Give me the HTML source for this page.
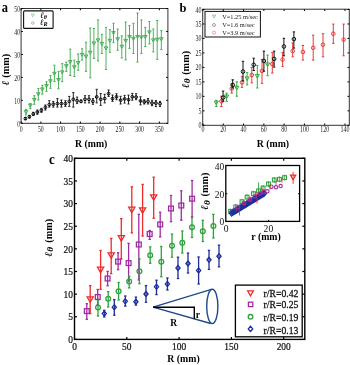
<!DOCTYPE html><html><head><meta charset="utf-8"><style>html,body{margin:0;padding:0;background:#fff;overflow:hidden}svg{display:block;filter:blur(0.3px)}text{font-family:"Liberation Serif",serif}</style></head><body>
<svg width="350" height="365" viewBox="0 0 350 365">
<rect width="350" height="365" fill="#fff"/>
<rect x="21.1" y="8.5" width="146.80" height="114.80" fill="none" stroke="#333" stroke-width="1"/>
<line x1="21.10" y1="123.30" x2="21.10" y2="121.50" stroke="#000" stroke-width="1"/>
<line x1="21.10" y1="8.50" x2="21.10" y2="10.30" stroke="#000" stroke-width="1"/>
<text transform="translate(21.10,131.50) scale(1,1.25)" x="0" y="0" font-size="5.8" text-anchor="middle" font-weight="normal" font-style="normal" fill="#222" >0</text>
<line x1="40.85" y1="123.30" x2="40.85" y2="121.50" stroke="#000" stroke-width="1"/>
<line x1="40.85" y1="8.50" x2="40.85" y2="10.30" stroke="#000" stroke-width="1"/>
<text transform="translate(40.85,131.50) scale(1,1.25)" x="0" y="0" font-size="5.8" text-anchor="middle" font-weight="normal" font-style="normal" fill="#222" >50</text>
<line x1="60.60" y1="123.30" x2="60.60" y2="121.50" stroke="#000" stroke-width="1"/>
<line x1="60.60" y1="8.50" x2="60.60" y2="10.30" stroke="#000" stroke-width="1"/>
<text transform="translate(60.60,131.50) scale(1,1.25)" x="0" y="0" font-size="5.8" text-anchor="middle" font-weight="normal" font-style="normal" fill="#222" >100</text>
<line x1="80.35" y1="123.30" x2="80.35" y2="121.50" stroke="#000" stroke-width="1"/>
<line x1="80.35" y1="8.50" x2="80.35" y2="10.30" stroke="#000" stroke-width="1"/>
<text transform="translate(80.35,131.50) scale(1,1.25)" x="0" y="0" font-size="5.8" text-anchor="middle" font-weight="normal" font-style="normal" fill="#222" >150</text>
<line x1="100.10" y1="123.30" x2="100.10" y2="121.50" stroke="#000" stroke-width="1"/>
<line x1="100.10" y1="8.50" x2="100.10" y2="10.30" stroke="#000" stroke-width="1"/>
<text transform="translate(100.10,131.50) scale(1,1.25)" x="0" y="0" font-size="5.8" text-anchor="middle" font-weight="normal" font-style="normal" fill="#222" >200</text>
<line x1="119.85" y1="123.30" x2="119.85" y2="121.50" stroke="#000" stroke-width="1"/>
<line x1="119.85" y1="8.50" x2="119.85" y2="10.30" stroke="#000" stroke-width="1"/>
<text transform="translate(119.85,131.50) scale(1,1.25)" x="0" y="0" font-size="5.8" text-anchor="middle" font-weight="normal" font-style="normal" fill="#222" >250</text>
<line x1="139.60" y1="123.30" x2="139.60" y2="121.50" stroke="#000" stroke-width="1"/>
<line x1="139.60" y1="8.50" x2="139.60" y2="10.30" stroke="#000" stroke-width="1"/>
<text transform="translate(139.60,131.50) scale(1,1.25)" x="0" y="0" font-size="5.8" text-anchor="middle" font-weight="normal" font-style="normal" fill="#222" >300</text>
<line x1="159.35" y1="123.30" x2="159.35" y2="121.50" stroke="#000" stroke-width="1"/>
<line x1="159.35" y1="8.50" x2="159.35" y2="10.30" stroke="#000" stroke-width="1"/>
<text transform="translate(159.35,131.50) scale(1,1.25)" x="0" y="0" font-size="5.8" text-anchor="middle" font-weight="normal" font-style="normal" fill="#222" >350</text>
<line x1="21.10" y1="123.30" x2="22.90" y2="123.30" stroke="#000" stroke-width="1"/>
<line x1="167.90" y1="123.30" x2="166.10" y2="123.30" stroke="#000" stroke-width="1"/>
<text transform="translate(20.10,126.50) scale(1,1.25)" x="0" y="0" font-size="5.8" text-anchor="end" font-weight="normal" font-style="normal" fill="#222" >0</text>
<line x1="21.10" y1="100.34" x2="22.90" y2="100.34" stroke="#000" stroke-width="1"/>
<line x1="167.90" y1="100.34" x2="166.10" y2="100.34" stroke="#000" stroke-width="1"/>
<text transform="translate(20.10,103.54) scale(1,1.25)" x="0" y="0" font-size="5.8" text-anchor="end" font-weight="normal" font-style="normal" fill="#222" >10</text>
<line x1="21.10" y1="77.38" x2="22.90" y2="77.38" stroke="#000" stroke-width="1"/>
<line x1="167.90" y1="77.38" x2="166.10" y2="77.38" stroke="#000" stroke-width="1"/>
<text transform="translate(20.10,80.58) scale(1,1.25)" x="0" y="0" font-size="5.8" text-anchor="end" font-weight="normal" font-style="normal" fill="#222" >20</text>
<line x1="21.10" y1="54.42" x2="22.90" y2="54.42" stroke="#000" stroke-width="1"/>
<line x1="167.90" y1="54.42" x2="166.10" y2="54.42" stroke="#000" stroke-width="1"/>
<text transform="translate(20.10,57.62) scale(1,1.25)" x="0" y="0" font-size="5.8" text-anchor="end" font-weight="normal" font-style="normal" fill="#222" >30</text>
<line x1="21.10" y1="31.46" x2="22.90" y2="31.46" stroke="#000" stroke-width="1"/>
<line x1="167.90" y1="31.46" x2="166.10" y2="31.46" stroke="#000" stroke-width="1"/>
<text transform="translate(20.10,34.66) scale(1,1.25)" x="0" y="0" font-size="5.8" text-anchor="end" font-weight="normal" font-style="normal" fill="#222" >40</text>
<line x1="21.10" y1="8.50" x2="22.90" y2="8.50" stroke="#000" stroke-width="1"/>
<line x1="167.90" y1="8.50" x2="166.10" y2="8.50" stroke="#000" stroke-width="1"/>
<text transform="translate(20.10,11.70) scale(1,1.25)" x="0" y="0" font-size="5.8" text-anchor="end" font-weight="normal" font-style="normal" fill="#222" >50</text>
<text transform="translate(91.20,146.50) scale(1,1.12)" x="0" y="0" font-size="9.8" text-anchor="middle" font-weight="bold" font-style="normal" fill="#000" >R (mm)</text>
<g transform="translate(8.5,69.7) rotate(-90) scale(1.1,1)"><text x="0" y="0" font-size="9.3" text-anchor="middle" font-weight="bold"><tspan font-style="italic" font-size="10.5">&#8467;</tspan><tspan dx="0.2"> (mm)</tspan></text></g>
<text transform="translate(1.70,11.50) scale(1,1.18)" x="0" y="0" font-size="12.5" text-anchor="start" font-weight="bold" font-style="normal" fill="#000" >a</text>
<line x1="26.00" y1="109.30" x2="26.00" y2="115.00" stroke="#3aa84a" stroke-width="0.9"/>
<line x1="24.90" y1="109.30" x2="27.10" y2="109.30" stroke="#3aa84a" stroke-width="0.9"/>
<line x1="24.90" y1="115.00" x2="27.10" y2="115.00" stroke="#3aa84a" stroke-width="0.9"/>
<path d="M24.20,110.53 L27.80,110.53 L26.00,113.67 Z" fill="none" stroke="#3aa84a" stroke-width="0.9" stroke-linejoin="miter"/>
<line x1="30.30" y1="103.60" x2="30.30" y2="108.60" stroke="#3aa84a" stroke-width="0.9"/>
<line x1="29.20" y1="103.60" x2="31.40" y2="103.60" stroke="#3aa84a" stroke-width="0.9"/>
<line x1="29.20" y1="108.60" x2="31.40" y2="108.60" stroke="#3aa84a" stroke-width="0.9"/>
<path d="M28.50,104.13 L32.10,104.13 L30.30,107.27 Z" fill="none" stroke="#3aa84a" stroke-width="0.9" stroke-linejoin="miter"/>
<line x1="34.30" y1="95.70" x2="34.30" y2="104.30" stroke="#3aa84a" stroke-width="0.9"/>
<line x1="33.20" y1="95.70" x2="35.40" y2="95.70" stroke="#3aa84a" stroke-width="0.9"/>
<line x1="33.20" y1="104.30" x2="35.40" y2="104.30" stroke="#3aa84a" stroke-width="0.9"/>
<path d="M32.50,98.43 L36.10,98.43 L34.30,101.57 Z" fill="none" stroke="#3aa84a" stroke-width="0.9" stroke-linejoin="miter"/>
<line x1="38.30" y1="88.60" x2="38.30" y2="100.00" stroke="#3aa84a" stroke-width="0.9"/>
<line x1="37.20" y1="88.60" x2="39.40" y2="88.60" stroke="#3aa84a" stroke-width="0.9"/>
<line x1="37.20" y1="100.00" x2="39.40" y2="100.00" stroke="#3aa84a" stroke-width="0.9"/>
<path d="M36.50,92.73 L40.10,92.73 L38.30,95.87 Z" fill="none" stroke="#3aa84a" stroke-width="0.9" stroke-linejoin="miter"/>
<line x1="42.30" y1="85.30" x2="42.30" y2="94.20" stroke="#3aa84a" stroke-width="0.9"/>
<line x1="41.20" y1="85.30" x2="43.40" y2="85.30" stroke="#3aa84a" stroke-width="0.9"/>
<line x1="41.20" y1="94.20" x2="43.40" y2="94.20" stroke="#3aa84a" stroke-width="0.9"/>
<path d="M40.50,87.93 L44.10,87.93 L42.30,91.07 Z" fill="none" stroke="#3aa84a" stroke-width="0.9" stroke-linejoin="miter"/>
<line x1="46.50" y1="81.80" x2="46.50" y2="91.40" stroke="#3aa84a" stroke-width="0.9"/>
<line x1="45.40" y1="81.80" x2="47.60" y2="81.80" stroke="#3aa84a" stroke-width="0.9"/>
<line x1="45.40" y1="91.40" x2="47.60" y2="91.40" stroke="#3aa84a" stroke-width="0.9"/>
<path d="M44.70,84.43 L48.30,84.43 L46.50,87.57 Z" fill="none" stroke="#3aa84a" stroke-width="0.9" stroke-linejoin="miter"/>
<line x1="50.40" y1="75.60" x2="50.40" y2="88.30" stroke="#3aa84a" stroke-width="0.9"/>
<line x1="49.30" y1="75.60" x2="51.50" y2="75.60" stroke="#3aa84a" stroke-width="0.9"/>
<line x1="49.30" y1="88.30" x2="51.50" y2="88.30" stroke="#3aa84a" stroke-width="0.9"/>
<path d="M48.60,79.73 L52.20,79.73 L50.40,82.87 Z" fill="none" stroke="#3aa84a" stroke-width="0.9" stroke-linejoin="miter"/>
<line x1="54.40" y1="65.20" x2="54.40" y2="81.60" stroke="#3aa84a" stroke-width="0.9"/>
<line x1="53.30" y1="65.20" x2="55.50" y2="65.20" stroke="#3aa84a" stroke-width="0.9"/>
<line x1="53.30" y1="81.60" x2="55.50" y2="81.60" stroke="#3aa84a" stroke-width="0.9"/>
<path d="M52.60,72.23 L56.20,72.23 L54.40,75.37 Z" fill="none" stroke="#3aa84a" stroke-width="0.9" stroke-linejoin="miter"/>
<line x1="58.50" y1="71.40" x2="58.50" y2="88.80" stroke="#3aa84a" stroke-width="0.9"/>
<line x1="57.40" y1="71.40" x2="59.60" y2="71.40" stroke="#3aa84a" stroke-width="0.9"/>
<line x1="57.40" y1="88.80" x2="59.60" y2="88.80" stroke="#3aa84a" stroke-width="0.9"/>
<path d="M56.70,78.43 L60.30,78.43 L58.50,81.57 Z" fill="none" stroke="#3aa84a" stroke-width="0.9" stroke-linejoin="miter"/>
<line x1="62.20" y1="63.60" x2="62.20" y2="81.60" stroke="#3aa84a" stroke-width="0.9"/>
<line x1="61.10" y1="63.60" x2="63.30" y2="63.60" stroke="#3aa84a" stroke-width="0.9"/>
<line x1="61.10" y1="81.60" x2="63.30" y2="81.60" stroke="#3aa84a" stroke-width="0.9"/>
<path d="M60.40,70.83 L64.00,70.83 L62.20,73.97 Z" fill="none" stroke="#3aa84a" stroke-width="0.9" stroke-linejoin="miter"/>
<line x1="66.30" y1="62.10" x2="66.30" y2="71.40" stroke="#3aa84a" stroke-width="0.9"/>
<line x1="65.20" y1="62.10" x2="67.40" y2="62.10" stroke="#3aa84a" stroke-width="0.9"/>
<line x1="65.20" y1="71.40" x2="67.40" y2="71.40" stroke="#3aa84a" stroke-width="0.9"/>
<path d="M64.50,64.63 L68.10,64.63 L66.30,67.77 Z" fill="none" stroke="#3aa84a" stroke-width="0.9" stroke-linejoin="miter"/>
<line x1="70.20" y1="49.20" x2="70.20" y2="75.50" stroke="#3aa84a" stroke-width="0.9"/>
<line x1="69.10" y1="49.20" x2="71.30" y2="49.20" stroke="#3aa84a" stroke-width="0.9"/>
<line x1="69.10" y1="75.50" x2="71.30" y2="75.50" stroke="#3aa84a" stroke-width="0.9"/>
<path d="M68.40,60.53 L72.00,60.53 L70.20,63.67 Z" fill="none" stroke="#3aa84a" stroke-width="0.9" stroke-linejoin="miter"/>
<line x1="74.30" y1="60.10" x2="74.30" y2="76.50" stroke="#3aa84a" stroke-width="0.9"/>
<line x1="73.20" y1="60.10" x2="75.40" y2="60.10" stroke="#3aa84a" stroke-width="0.9"/>
<line x1="73.20" y1="76.50" x2="75.40" y2="76.50" stroke="#3aa84a" stroke-width="0.9"/>
<path d="M72.50,65.73 L76.10,65.73 L74.30,68.87 Z" fill="none" stroke="#3aa84a" stroke-width="0.9" stroke-linejoin="miter"/>
<line x1="78.20" y1="53.90" x2="78.20" y2="70.30" stroke="#3aa84a" stroke-width="0.9"/>
<line x1="77.10" y1="53.90" x2="79.30" y2="53.90" stroke="#3aa84a" stroke-width="0.9"/>
<line x1="77.10" y1="70.30" x2="79.30" y2="70.30" stroke="#3aa84a" stroke-width="0.9"/>
<path d="M76.40,61.53 L80.00,61.53 L78.20,64.67 Z" fill="none" stroke="#3aa84a" stroke-width="0.9" stroke-linejoin="miter"/>
<line x1="82.10" y1="48.80" x2="82.10" y2="60.10" stroke="#3aa84a" stroke-width="0.9"/>
<line x1="81.00" y1="48.80" x2="83.20" y2="48.80" stroke="#3aa84a" stroke-width="0.9"/>
<line x1="81.00" y1="60.10" x2="83.20" y2="60.10" stroke="#3aa84a" stroke-width="0.9"/>
<path d="M80.30,53.33 L83.90,53.33 L82.10,56.47 Z" fill="none" stroke="#3aa84a" stroke-width="0.9" stroke-linejoin="miter"/>
<line x1="86.00" y1="42.20" x2="86.00" y2="71.40" stroke="#3aa84a" stroke-width="0.9"/>
<line x1="84.90" y1="42.20" x2="87.10" y2="42.20" stroke="#3aa84a" stroke-width="0.9"/>
<line x1="84.90" y1="71.40" x2="87.10" y2="71.40" stroke="#3aa84a" stroke-width="0.9"/>
<path d="M84.20,55.03 L87.80,55.03 L86.00,58.17 Z" fill="none" stroke="#3aa84a" stroke-width="0.9" stroke-linejoin="miter"/>
<line x1="90.20" y1="28.00" x2="90.20" y2="77.80" stroke="#3aa84a" stroke-width="0.9"/>
<line x1="89.10" y1="28.00" x2="91.30" y2="28.00" stroke="#3aa84a" stroke-width="0.9"/>
<line x1="89.10" y1="77.80" x2="91.30" y2="77.80" stroke="#3aa84a" stroke-width="0.9"/>
<path d="M88.40,51.13 L92.00,51.13 L90.20,54.27 Z" fill="none" stroke="#3aa84a" stroke-width="0.9" stroke-linejoin="miter"/>
<line x1="93.90" y1="28.50" x2="93.90" y2="58.40" stroke="#3aa84a" stroke-width="0.9"/>
<line x1="92.80" y1="28.50" x2="95.00" y2="28.50" stroke="#3aa84a" stroke-width="0.9"/>
<line x1="92.80" y1="58.40" x2="95.00" y2="58.40" stroke="#3aa84a" stroke-width="0.9"/>
<path d="M92.10,41.93 L95.70,41.93 L93.90,45.07 Z" fill="none" stroke="#3aa84a" stroke-width="0.9" stroke-linejoin="miter"/>
<line x1="98.00" y1="19.90" x2="98.00" y2="61.00" stroke="#3aa84a" stroke-width="0.9"/>
<line x1="96.90" y1="19.90" x2="99.10" y2="19.90" stroke="#3aa84a" stroke-width="0.9"/>
<line x1="96.90" y1="61.00" x2="99.10" y2="61.00" stroke="#3aa84a" stroke-width="0.9"/>
<path d="M96.20,38.83 L99.80,38.83 L98.00,41.97 Z" fill="none" stroke="#3aa84a" stroke-width="0.9" stroke-linejoin="miter"/>
<line x1="101.90" y1="34.30" x2="101.90" y2="53.50" stroke="#3aa84a" stroke-width="0.9"/>
<line x1="100.80" y1="34.30" x2="103.00" y2="34.30" stroke="#3aa84a" stroke-width="0.9"/>
<line x1="100.80" y1="53.50" x2="103.00" y2="53.50" stroke="#3aa84a" stroke-width="0.9"/>
<path d="M100.10,42.33 L103.70,42.33 L101.90,45.47 Z" fill="none" stroke="#3aa84a" stroke-width="0.9" stroke-linejoin="miter"/>
<line x1="106.00" y1="27.40" x2="106.00" y2="69.50" stroke="#3aa84a" stroke-width="0.9"/>
<line x1="104.90" y1="27.40" x2="107.10" y2="27.40" stroke="#3aa84a" stroke-width="0.9"/>
<line x1="104.90" y1="69.50" x2="107.10" y2="69.50" stroke="#3aa84a" stroke-width="0.9"/>
<path d="M104.20,46.83 L107.80,46.83 L106.00,49.97 Z" fill="none" stroke="#3aa84a" stroke-width="0.9" stroke-linejoin="miter"/>
<line x1="109.90" y1="29.70" x2="109.90" y2="52.30" stroke="#3aa84a" stroke-width="0.9"/>
<line x1="108.80" y1="29.70" x2="111.00" y2="29.70" stroke="#3aa84a" stroke-width="0.9"/>
<line x1="108.80" y1="52.30" x2="111.00" y2="52.30" stroke="#3aa84a" stroke-width="0.9"/>
<path d="M108.10,39.33 L111.70,39.33 L109.90,42.47 Z" fill="none" stroke="#3aa84a" stroke-width="0.9" stroke-linejoin="miter"/>
<line x1="113.50" y1="23.30" x2="113.50" y2="42.70" stroke="#3aa84a" stroke-width="0.9"/>
<line x1="112.40" y1="23.30" x2="114.60" y2="23.30" stroke="#3aa84a" stroke-width="0.9"/>
<line x1="112.40" y1="42.70" x2="114.60" y2="42.70" stroke="#3aa84a" stroke-width="0.9"/>
<path d="M111.70,31.53 L115.30,31.53 L113.50,34.67 Z" fill="none" stroke="#3aa84a" stroke-width="0.9" stroke-linejoin="miter"/>
<line x1="117.70" y1="29.00" x2="117.70" y2="50.30" stroke="#3aa84a" stroke-width="0.9"/>
<line x1="116.60" y1="29.00" x2="118.80" y2="29.00" stroke="#3aa84a" stroke-width="0.9"/>
<line x1="116.60" y1="50.30" x2="118.80" y2="50.30" stroke="#3aa84a" stroke-width="0.9"/>
<path d="M115.90,37.73 L119.50,37.73 L117.70,40.87 Z" fill="none" stroke="#3aa84a" stroke-width="0.9" stroke-linejoin="miter"/>
<line x1="121.80" y1="35.90" x2="121.80" y2="58.00" stroke="#3aa84a" stroke-width="0.9"/>
<line x1="120.70" y1="35.90" x2="122.90" y2="35.90" stroke="#3aa84a" stroke-width="0.9"/>
<line x1="120.70" y1="58.00" x2="122.90" y2="58.00" stroke="#3aa84a" stroke-width="0.9"/>
<path d="M120.00,45.23 L123.60,45.23 L121.80,48.37 Z" fill="none" stroke="#3aa84a" stroke-width="0.9" stroke-linejoin="miter"/>
<line x1="125.70" y1="22.10" x2="125.70" y2="59.90" stroke="#3aa84a" stroke-width="0.9"/>
<line x1="124.60" y1="22.10" x2="126.80" y2="22.10" stroke="#3aa84a" stroke-width="0.9"/>
<line x1="124.60" y1="59.90" x2="126.80" y2="59.90" stroke="#3aa84a" stroke-width="0.9"/>
<path d="M123.90,39.33 L127.50,39.33 L125.70,42.47 Z" fill="none" stroke="#3aa84a" stroke-width="0.9" stroke-linejoin="miter"/>
<line x1="129.50" y1="25.60" x2="129.50" y2="48.40" stroke="#3aa84a" stroke-width="0.9"/>
<line x1="128.40" y1="25.60" x2="130.60" y2="25.60" stroke="#3aa84a" stroke-width="0.9"/>
<line x1="128.40" y1="48.40" x2="130.60" y2="48.40" stroke="#3aa84a" stroke-width="0.9"/>
<path d="M127.70,35.43 L131.30,35.43 L129.50,38.57 Z" fill="none" stroke="#3aa84a" stroke-width="0.9" stroke-linejoin="miter"/>
<line x1="133.40" y1="23.30" x2="133.40" y2="53.50" stroke="#3aa84a" stroke-width="0.9"/>
<line x1="132.30" y1="23.30" x2="134.50" y2="23.30" stroke="#3aa84a" stroke-width="0.9"/>
<line x1="132.30" y1="53.50" x2="134.50" y2="53.50" stroke="#3aa84a" stroke-width="0.9"/>
<path d="M131.60,37.23 L135.20,37.23 L133.40,40.37 Z" fill="none" stroke="#3aa84a" stroke-width="0.9" stroke-linejoin="miter"/>
<line x1="137.50" y1="13.00" x2="137.50" y2="62.10" stroke="#3aa84a" stroke-width="0.9"/>
<line x1="136.40" y1="13.00" x2="138.60" y2="13.00" stroke="#3aa84a" stroke-width="0.9"/>
<line x1="136.40" y1="62.10" x2="138.60" y2="62.10" stroke="#3aa84a" stroke-width="0.9"/>
<path d="M135.70,35.43 L139.30,35.43 L137.50,38.57 Z" fill="none" stroke="#3aa84a" stroke-width="0.9" stroke-linejoin="miter"/>
<line x1="141.40" y1="19.90" x2="141.40" y2="53.50" stroke="#3aa84a" stroke-width="0.9"/>
<line x1="140.30" y1="19.90" x2="142.50" y2="19.90" stroke="#3aa84a" stroke-width="0.9"/>
<line x1="140.30" y1="53.50" x2="142.50" y2="53.50" stroke="#3aa84a" stroke-width="0.9"/>
<path d="M139.60,35.93 L143.20,35.93 L141.40,39.07 Z" fill="none" stroke="#3aa84a" stroke-width="0.9" stroke-linejoin="miter"/>
<line x1="145.30" y1="27.40" x2="145.30" y2="46.60" stroke="#3aa84a" stroke-width="0.9"/>
<line x1="144.20" y1="27.40" x2="146.40" y2="27.40" stroke="#3aa84a" stroke-width="0.9"/>
<line x1="144.20" y1="46.60" x2="146.40" y2="46.60" stroke="#3aa84a" stroke-width="0.9"/>
<path d="M143.50,35.43 L147.10,35.43 L145.30,38.57 Z" fill="none" stroke="#3aa84a" stroke-width="0.9" stroke-linejoin="miter"/>
<line x1="149.40" y1="21.50" x2="149.40" y2="43.90" stroke="#3aa84a" stroke-width="0.9"/>
<line x1="148.30" y1="21.50" x2="150.50" y2="21.50" stroke="#3aa84a" stroke-width="0.9"/>
<line x1="148.30" y1="43.90" x2="150.50" y2="43.90" stroke="#3aa84a" stroke-width="0.9"/>
<path d="M147.60,30.83 L151.20,30.83 L149.40,33.97 Z" fill="none" stroke="#3aa84a" stroke-width="0.9" stroke-linejoin="miter"/>
<line x1="153.30" y1="29.00" x2="153.30" y2="51.90" stroke="#3aa84a" stroke-width="0.9"/>
<line x1="152.20" y1="29.00" x2="154.40" y2="29.00" stroke="#3aa84a" stroke-width="0.9"/>
<line x1="152.20" y1="51.90" x2="154.40" y2="51.90" stroke="#3aa84a" stroke-width="0.9"/>
<path d="M151.50,38.83 L155.10,38.83 L153.30,41.97 Z" fill="none" stroke="#3aa84a" stroke-width="0.9" stroke-linejoin="miter"/>
<line x1="157.20" y1="20.50" x2="157.20" y2="59.40" stroke="#3aa84a" stroke-width="0.9"/>
<line x1="156.10" y1="20.50" x2="158.30" y2="20.50" stroke="#3aa84a" stroke-width="0.9"/>
<line x1="156.10" y1="59.40" x2="158.30" y2="59.40" stroke="#3aa84a" stroke-width="0.9"/>
<path d="M155.40,38.13 L159.00,38.13 L157.20,41.27 Z" fill="none" stroke="#3aa84a" stroke-width="0.9" stroke-linejoin="miter"/>
<line x1="161.30" y1="30.60" x2="161.30" y2="49.60" stroke="#3aa84a" stroke-width="0.9"/>
<line x1="160.20" y1="30.60" x2="162.40" y2="30.60" stroke="#3aa84a" stroke-width="0.9"/>
<line x1="160.20" y1="49.60" x2="162.40" y2="49.60" stroke="#3aa84a" stroke-width="0.9"/>
<path d="M159.50,37.73 L163.10,37.73 L161.30,40.87 Z" fill="none" stroke="#3aa84a" stroke-width="0.9" stroke-linejoin="miter"/>
<line x1="25.40" y1="117.50" x2="25.40" y2="119.70" stroke="#111" stroke-width="0.9"/>
<line x1="24.30" y1="117.50" x2="26.50" y2="117.50" stroke="#111" stroke-width="0.9"/>
<line x1="24.30" y1="119.70" x2="26.50" y2="119.70" stroke="#111" stroke-width="0.9"/>
<circle cx="25.40" cy="118.60" r="1.4" fill="none" stroke="#000" stroke-width="1.0"/>
<line x1="29.40" y1="115.50" x2="29.40" y2="118.00" stroke="#111" stroke-width="0.9"/>
<line x1="28.30" y1="115.50" x2="30.50" y2="115.50" stroke="#111" stroke-width="0.9"/>
<line x1="28.30" y1="118.00" x2="30.50" y2="118.00" stroke="#111" stroke-width="0.9"/>
<circle cx="29.40" cy="116.70" r="1.4" fill="none" stroke="#000" stroke-width="1.0"/>
<line x1="33.30" y1="112.30" x2="33.30" y2="115.50" stroke="#111" stroke-width="0.9"/>
<line x1="32.20" y1="112.30" x2="34.40" y2="112.30" stroke="#111" stroke-width="0.9"/>
<line x1="32.20" y1="115.50" x2="34.40" y2="115.50" stroke="#111" stroke-width="0.9"/>
<circle cx="33.30" cy="113.90" r="1.4" fill="none" stroke="#000" stroke-width="1.0"/>
<line x1="37.40" y1="110.00" x2="37.40" y2="114.30" stroke="#111" stroke-width="0.9"/>
<line x1="36.30" y1="110.00" x2="38.50" y2="110.00" stroke="#111" stroke-width="0.9"/>
<line x1="36.30" y1="114.30" x2="38.50" y2="114.30" stroke="#111" stroke-width="0.9"/>
<circle cx="37.40" cy="112.10" r="1.4" fill="none" stroke="#000" stroke-width="1.0"/>
<line x1="41.40" y1="108.30" x2="41.40" y2="112.30" stroke="#111" stroke-width="0.9"/>
<line x1="40.30" y1="108.30" x2="42.50" y2="108.30" stroke="#111" stroke-width="0.9"/>
<line x1="40.30" y1="112.30" x2="42.50" y2="112.30" stroke="#111" stroke-width="0.9"/>
<circle cx="41.40" cy="110.30" r="1.4" fill="none" stroke="#000" stroke-width="1.0"/>
<line x1="45.40" y1="105.00" x2="45.40" y2="110.00" stroke="#111" stroke-width="0.9"/>
<line x1="44.30" y1="105.00" x2="46.50" y2="105.00" stroke="#111" stroke-width="0.9"/>
<line x1="44.30" y1="110.00" x2="46.50" y2="110.00" stroke="#111" stroke-width="0.9"/>
<circle cx="45.40" cy="107.40" r="1.4" fill="none" stroke="#000" stroke-width="1.0"/>
<line x1="49.30" y1="100.70" x2="49.30" y2="107.10" stroke="#111" stroke-width="0.9"/>
<line x1="48.20" y1="100.70" x2="50.40" y2="100.70" stroke="#111" stroke-width="0.9"/>
<line x1="48.20" y1="107.10" x2="50.40" y2="107.10" stroke="#111" stroke-width="0.9"/>
<circle cx="49.30" cy="104.60" r="1.4" fill="none" stroke="#000" stroke-width="1.0"/>
<line x1="53.30" y1="101.40" x2="53.30" y2="107.10" stroke="#111" stroke-width="0.9"/>
<line x1="52.20" y1="101.40" x2="54.40" y2="101.40" stroke="#111" stroke-width="0.9"/>
<line x1="52.20" y1="107.10" x2="54.40" y2="107.10" stroke="#111" stroke-width="0.9"/>
<circle cx="53.30" cy="104.30" r="1.4" fill="none" stroke="#000" stroke-width="1.0"/>
<line x1="57.40" y1="98.60" x2="57.40" y2="107.10" stroke="#111" stroke-width="0.9"/>
<line x1="56.30" y1="98.60" x2="58.50" y2="98.60" stroke="#111" stroke-width="0.9"/>
<line x1="56.30" y1="107.10" x2="58.50" y2="107.10" stroke="#111" stroke-width="0.9"/>
<circle cx="57.40" cy="103.60" r="1.4" fill="none" stroke="#000" stroke-width="1.0"/>
<line x1="61.40" y1="100.00" x2="61.40" y2="107.10" stroke="#111" stroke-width="0.9"/>
<line x1="60.30" y1="100.00" x2="62.50" y2="100.00" stroke="#111" stroke-width="0.9"/>
<line x1="60.30" y1="107.10" x2="62.50" y2="107.10" stroke="#111" stroke-width="0.9"/>
<circle cx="61.40" cy="103.60" r="1.4" fill="none" stroke="#000" stroke-width="1.0"/>
<line x1="65.40" y1="100.70" x2="65.40" y2="106.40" stroke="#111" stroke-width="0.9"/>
<line x1="64.30" y1="100.70" x2="66.50" y2="100.70" stroke="#111" stroke-width="0.9"/>
<line x1="64.30" y1="106.40" x2="66.50" y2="106.40" stroke="#111" stroke-width="0.9"/>
<circle cx="65.40" cy="103.60" r="1.4" fill="none" stroke="#000" stroke-width="1.0"/>
<line x1="69.30" y1="96.40" x2="69.30" y2="106.40" stroke="#111" stroke-width="0.9"/>
<line x1="68.20" y1="96.40" x2="70.40" y2="96.40" stroke="#111" stroke-width="0.9"/>
<line x1="68.20" y1="106.40" x2="70.40" y2="106.40" stroke="#111" stroke-width="0.9"/>
<circle cx="69.30" cy="101.40" r="1.4" fill="none" stroke="#000" stroke-width="1.0"/>
<line x1="73.30" y1="92.60" x2="73.30" y2="107.10" stroke="#111" stroke-width="0.9"/>
<line x1="72.20" y1="92.60" x2="74.40" y2="92.60" stroke="#111" stroke-width="0.9"/>
<line x1="72.20" y1="107.10" x2="74.40" y2="107.10" stroke="#111" stroke-width="0.9"/>
<circle cx="73.30" cy="99.30" r="1.4" fill="none" stroke="#000" stroke-width="1.0"/>
<line x1="77.10" y1="97.10" x2="77.10" y2="103.60" stroke="#111" stroke-width="0.9"/>
<line x1="76.00" y1="97.10" x2="78.20" y2="97.10" stroke="#111" stroke-width="0.9"/>
<line x1="76.00" y1="103.60" x2="78.20" y2="103.60" stroke="#111" stroke-width="0.9"/>
<circle cx="77.10" cy="100.70" r="1.4" fill="none" stroke="#000" stroke-width="1.0"/>
<line x1="81.00" y1="100.00" x2="81.00" y2="102.50" stroke="#111" stroke-width="0.9"/>
<line x1="79.90" y1="100.00" x2="82.10" y2="100.00" stroke="#111" stroke-width="0.9"/>
<line x1="79.90" y1="102.50" x2="82.10" y2="102.50" stroke="#111" stroke-width="0.9"/>
<circle cx="81.00" cy="101.40" r="1.4" fill="none" stroke="#000" stroke-width="1.0"/>
<line x1="85.00" y1="95.70" x2="85.00" y2="102.90" stroke="#111" stroke-width="0.9"/>
<line x1="83.90" y1="95.70" x2="86.10" y2="95.70" stroke="#111" stroke-width="0.9"/>
<line x1="83.90" y1="102.90" x2="86.10" y2="102.90" stroke="#111" stroke-width="0.9"/>
<circle cx="85.00" cy="99.30" r="1.4" fill="none" stroke="#000" stroke-width="1.0"/>
<line x1="89.00" y1="95.70" x2="89.00" y2="102.90" stroke="#111" stroke-width="0.9"/>
<line x1="87.90" y1="95.70" x2="90.10" y2="95.70" stroke="#111" stroke-width="0.9"/>
<line x1="87.90" y1="102.90" x2="90.10" y2="102.90" stroke="#111" stroke-width="0.9"/>
<circle cx="89.00" cy="99.30" r="1.4" fill="none" stroke="#000" stroke-width="1.0"/>
<line x1="92.90" y1="98.60" x2="92.90" y2="104.30" stroke="#111" stroke-width="0.9"/>
<line x1="91.80" y1="98.60" x2="94.00" y2="98.60" stroke="#111" stroke-width="0.9"/>
<line x1="91.80" y1="104.30" x2="94.00" y2="104.30" stroke="#111" stroke-width="0.9"/>
<circle cx="92.90" cy="101.40" r="1.4" fill="none" stroke="#000" stroke-width="1.0"/>
<line x1="96.70" y1="89.30" x2="96.70" y2="102.90" stroke="#111" stroke-width="0.9"/>
<line x1="95.60" y1="89.30" x2="97.80" y2="89.30" stroke="#111" stroke-width="0.9"/>
<line x1="95.60" y1="102.90" x2="97.80" y2="102.90" stroke="#111" stroke-width="0.9"/>
<circle cx="96.70" cy="96.90" r="1.4" fill="none" stroke="#000" stroke-width="1.0"/>
<line x1="100.70" y1="93.60" x2="100.70" y2="105.40" stroke="#111" stroke-width="0.9"/>
<line x1="99.60" y1="93.60" x2="101.80" y2="93.60" stroke="#111" stroke-width="0.9"/>
<line x1="99.60" y1="105.40" x2="101.80" y2="105.40" stroke="#111" stroke-width="0.9"/>
<circle cx="100.70" cy="99.30" r="1.4" fill="none" stroke="#000" stroke-width="1.0"/>
<line x1="104.70" y1="94.30" x2="104.70" y2="102.90" stroke="#111" stroke-width="0.9"/>
<line x1="103.60" y1="94.30" x2="105.80" y2="94.30" stroke="#111" stroke-width="0.9"/>
<line x1="103.60" y1="102.90" x2="105.80" y2="102.90" stroke="#111" stroke-width="0.9"/>
<circle cx="104.70" cy="98.60" r="1.4" fill="none" stroke="#000" stroke-width="1.0"/>
<line x1="108.60" y1="90.00" x2="108.60" y2="96.40" stroke="#111" stroke-width="0.9"/>
<line x1="107.50" y1="90.00" x2="109.70" y2="90.00" stroke="#111" stroke-width="0.9"/>
<line x1="107.50" y1="96.40" x2="109.70" y2="96.40" stroke="#111" stroke-width="0.9"/>
<circle cx="108.60" cy="93.60" r="1.4" fill="none" stroke="#000" stroke-width="1.0"/>
<line x1="112.50" y1="95.00" x2="112.50" y2="101.30" stroke="#111" stroke-width="0.9"/>
<line x1="111.40" y1="95.00" x2="113.60" y2="95.00" stroke="#111" stroke-width="0.9"/>
<line x1="111.40" y1="101.30" x2="113.60" y2="101.30" stroke="#111" stroke-width="0.9"/>
<circle cx="112.50" cy="98.60" r="1.4" fill="none" stroke="#000" stroke-width="1.0"/>
<line x1="116.50" y1="93.70" x2="116.50" y2="99.70" stroke="#111" stroke-width="0.9"/>
<line x1="115.40" y1="93.70" x2="117.60" y2="93.70" stroke="#111" stroke-width="0.9"/>
<line x1="115.40" y1="99.70" x2="117.60" y2="99.70" stroke="#111" stroke-width="0.9"/>
<circle cx="116.50" cy="96.80" r="1.4" fill="none" stroke="#000" stroke-width="1.0"/>
<line x1="120.60" y1="96.30" x2="120.60" y2="104.00" stroke="#111" stroke-width="0.9"/>
<line x1="119.50" y1="96.30" x2="121.70" y2="96.30" stroke="#111" stroke-width="0.9"/>
<line x1="119.50" y1="104.00" x2="121.70" y2="104.00" stroke="#111" stroke-width="0.9"/>
<circle cx="120.60" cy="100.20" r="1.4" fill="none" stroke="#000" stroke-width="1.0"/>
<line x1="124.60" y1="95.40" x2="124.60" y2="103.10" stroke="#111" stroke-width="0.9"/>
<line x1="123.50" y1="95.40" x2="125.70" y2="95.40" stroke="#111" stroke-width="0.9"/>
<line x1="123.50" y1="103.10" x2="125.70" y2="103.10" stroke="#111" stroke-width="0.9"/>
<circle cx="124.60" cy="98.90" r="1.4" fill="none" stroke="#000" stroke-width="1.0"/>
<line x1="128.50" y1="95.10" x2="128.50" y2="104.00" stroke="#111" stroke-width="0.9"/>
<line x1="127.40" y1="95.10" x2="129.60" y2="95.10" stroke="#111" stroke-width="0.9"/>
<line x1="127.40" y1="104.00" x2="129.60" y2="104.00" stroke="#111" stroke-width="0.9"/>
<circle cx="128.50" cy="99.70" r="1.4" fill="none" stroke="#000" stroke-width="1.0"/>
<line x1="132.30" y1="93.40" x2="132.30" y2="100.20" stroke="#111" stroke-width="0.9"/>
<line x1="131.20" y1="93.40" x2="133.40" y2="93.40" stroke="#111" stroke-width="0.9"/>
<line x1="131.20" y1="100.20" x2="133.40" y2="100.20" stroke="#111" stroke-width="0.9"/>
<circle cx="132.30" cy="96.80" r="1.4" fill="none" stroke="#000" stroke-width="1.0"/>
<line x1="136.10" y1="93.70" x2="136.10" y2="99.70" stroke="#111" stroke-width="0.9"/>
<line x1="135.00" y1="93.70" x2="137.20" y2="93.70" stroke="#111" stroke-width="0.9"/>
<line x1="135.00" y1="99.70" x2="137.20" y2="99.70" stroke="#111" stroke-width="0.9"/>
<circle cx="136.10" cy="97.10" r="1.4" fill="none" stroke="#000" stroke-width="1.0"/>
<line x1="140.50" y1="96.80" x2="140.50" y2="104.90" stroke="#111" stroke-width="0.9"/>
<line x1="139.40" y1="96.80" x2="141.60" y2="96.80" stroke="#111" stroke-width="0.9"/>
<line x1="139.40" y1="104.90" x2="141.60" y2="104.90" stroke="#111" stroke-width="0.9"/>
<circle cx="140.50" cy="100.90" r="1.4" fill="none" stroke="#000" stroke-width="1.0"/>
<line x1="144.30" y1="99.70" x2="144.30" y2="104.00" stroke="#111" stroke-width="0.9"/>
<line x1="143.20" y1="99.70" x2="145.40" y2="99.70" stroke="#111" stroke-width="0.9"/>
<line x1="143.20" y1="104.00" x2="145.40" y2="104.00" stroke="#111" stroke-width="0.9"/>
<circle cx="144.30" cy="101.90" r="1.4" fill="none" stroke="#000" stroke-width="1.0"/>
<line x1="148.00" y1="98.50" x2="148.00" y2="104.00" stroke="#111" stroke-width="0.9"/>
<line x1="146.90" y1="98.50" x2="149.10" y2="98.50" stroke="#111" stroke-width="0.9"/>
<line x1="146.90" y1="104.00" x2="149.10" y2="104.00" stroke="#111" stroke-width="0.9"/>
<circle cx="148.00" cy="101.40" r="1.4" fill="none" stroke="#000" stroke-width="1.0"/>
<line x1="152.00" y1="100.20" x2="152.00" y2="105.70" stroke="#111" stroke-width="0.9"/>
<line x1="150.90" y1="100.20" x2="153.10" y2="100.20" stroke="#111" stroke-width="0.9"/>
<line x1="150.90" y1="105.70" x2="153.10" y2="105.70" stroke="#111" stroke-width="0.9"/>
<circle cx="152.00" cy="103.10" r="1.4" fill="none" stroke="#000" stroke-width="1.0"/>
<line x1="155.90" y1="100.60" x2="155.90" y2="106.60" stroke="#111" stroke-width="0.9"/>
<line x1="154.80" y1="100.60" x2="157.00" y2="100.60" stroke="#111" stroke-width="0.9"/>
<line x1="154.80" y1="106.60" x2="157.00" y2="106.60" stroke="#111" stroke-width="0.9"/>
<circle cx="155.90" cy="103.10" r="1.4" fill="none" stroke="#000" stroke-width="1.0"/>
<line x1="160.00" y1="101.40" x2="160.00" y2="106.60" stroke="#111" stroke-width="0.9"/>
<line x1="158.90" y1="101.40" x2="161.10" y2="101.40" stroke="#111" stroke-width="0.9"/>
<line x1="158.90" y1="106.60" x2="161.10" y2="106.60" stroke="#111" stroke-width="0.9"/>
<circle cx="160.00" cy="103.70" r="1.4" fill="none" stroke="#000" stroke-width="1.0"/>
<rect x="23.6" y="10.9" width="29.5" height="17.5" rx="1" fill="#fff" stroke="#111" stroke-width="1.1"/>
<path d="M31.20,14.11 L34.40,14.11 L32.80,16.89 Z" fill="none" stroke="#7c7" stroke-width="0.7" stroke-linejoin="miter"/>
<circle cx="32.80" cy="23.00" r="1.3" fill="none" stroke="#999" stroke-width="0.7"/>
<text x="40" y="17.8" font-size="8.5" font-weight="bold" font-style="italic">&#8467;<tspan font-size="6" dy="0.7">&#952;</tspan></text>
<text x="39.8" y="24.9" font-size="8.5" font-weight="bold" font-style="italic">&#8467;<tspan font-size="6" dy="1.2">R</tspan></text>
<rect x="202.7" y="9.2" width="146.60" height="116.10" fill="none" stroke="#333" stroke-width="1"/>
<line x1="203.00" y1="125.30" x2="203.00" y2="123.50" stroke="#000" stroke-width="1"/>
<line x1="203.00" y1="9.20" x2="203.00" y2="11.00" stroke="#000" stroke-width="1"/>
<text transform="translate(203.00,132.40) scale(1,1.22)" x="0" y="0" font-size="6.0" text-anchor="middle" font-weight="normal" font-style="normal" fill="#222" >0</text>
<line x1="223.29" y1="125.30" x2="223.29" y2="123.50" stroke="#000" stroke-width="1"/>
<line x1="223.29" y1="9.20" x2="223.29" y2="11.00" stroke="#000" stroke-width="1"/>
<text transform="translate(223.29,132.40) scale(1,1.22)" x="0" y="0" font-size="6.0" text-anchor="middle" font-weight="normal" font-style="normal" fill="#222" >20</text>
<line x1="243.57" y1="125.30" x2="243.57" y2="123.50" stroke="#000" stroke-width="1"/>
<line x1="243.57" y1="9.20" x2="243.57" y2="11.00" stroke="#000" stroke-width="1"/>
<text transform="translate(243.57,132.40) scale(1,1.22)" x="0" y="0" font-size="6.0" text-anchor="middle" font-weight="normal" font-style="normal" fill="#222" >40</text>
<line x1="263.86" y1="125.30" x2="263.86" y2="123.50" stroke="#000" stroke-width="1"/>
<line x1="263.86" y1="9.20" x2="263.86" y2="11.00" stroke="#000" stroke-width="1"/>
<text transform="translate(263.86,132.40) scale(1,1.22)" x="0" y="0" font-size="6.0" text-anchor="middle" font-weight="normal" font-style="normal" fill="#222" >60</text>
<line x1="284.14" y1="125.30" x2="284.14" y2="123.50" stroke="#000" stroke-width="1"/>
<line x1="284.14" y1="9.20" x2="284.14" y2="11.00" stroke="#000" stroke-width="1"/>
<text transform="translate(284.14,132.40) scale(1,1.22)" x="0" y="0" font-size="6.0" text-anchor="middle" font-weight="normal" font-style="normal" fill="#222" >80</text>
<line x1="304.43" y1="125.30" x2="304.43" y2="123.50" stroke="#000" stroke-width="1"/>
<line x1="304.43" y1="9.20" x2="304.43" y2="11.00" stroke="#000" stroke-width="1"/>
<text transform="translate(304.43,132.40) scale(1,1.22)" x="0" y="0" font-size="6.0" text-anchor="middle" font-weight="normal" font-style="normal" fill="#222" >100</text>
<line x1="324.72" y1="125.30" x2="324.72" y2="123.50" stroke="#000" stroke-width="1"/>
<line x1="324.72" y1="9.20" x2="324.72" y2="11.00" stroke="#000" stroke-width="1"/>
<text transform="translate(324.72,132.40) scale(1,1.22)" x="0" y="0" font-size="6.0" text-anchor="middle" font-weight="normal" font-style="normal" fill="#222" >120</text>
<line x1="345.00" y1="125.30" x2="345.00" y2="123.50" stroke="#000" stroke-width="1"/>
<line x1="345.00" y1="9.20" x2="345.00" y2="11.00" stroke="#000" stroke-width="1"/>
<text transform="translate(345.00,132.40) scale(1,1.22)" x="0" y="0" font-size="6.0" text-anchor="middle" font-weight="normal" font-style="normal" fill="#222" >140</text>
<line x1="202.70" y1="125.30" x2="204.50" y2="125.30" stroke="#000" stroke-width="1"/>
<line x1="349.30" y1="125.30" x2="347.50" y2="125.30" stroke="#000" stroke-width="1"/>
<text transform="translate(201.50,128.30) scale(1,1.22)" x="0" y="0" font-size="6.0" text-anchor="end" font-weight="normal" font-style="normal" fill="#222" >0</text>
<line x1="202.70" y1="110.83" x2="204.50" y2="110.83" stroke="#000" stroke-width="1"/>
<line x1="349.30" y1="110.83" x2="347.50" y2="110.83" stroke="#000" stroke-width="1"/>
<text transform="translate(201.50,113.83) scale(1,1.22)" x="0" y="0" font-size="6.0" text-anchor="end" font-weight="normal" font-style="normal" fill="#222" >5</text>
<line x1="202.70" y1="96.35" x2="204.50" y2="96.35" stroke="#000" stroke-width="1"/>
<line x1="349.30" y1="96.35" x2="347.50" y2="96.35" stroke="#000" stroke-width="1"/>
<text transform="translate(201.50,99.35) scale(1,1.22)" x="0" y="0" font-size="6.0" text-anchor="end" font-weight="normal" font-style="normal" fill="#222" >10</text>
<line x1="202.70" y1="81.88" x2="204.50" y2="81.88" stroke="#000" stroke-width="1"/>
<line x1="349.30" y1="81.88" x2="347.50" y2="81.88" stroke="#000" stroke-width="1"/>
<text transform="translate(201.50,84.88) scale(1,1.22)" x="0" y="0" font-size="6.0" text-anchor="end" font-weight="normal" font-style="normal" fill="#222" >15</text>
<line x1="202.70" y1="67.40" x2="204.50" y2="67.40" stroke="#000" stroke-width="1"/>
<line x1="349.30" y1="67.40" x2="347.50" y2="67.40" stroke="#000" stroke-width="1"/>
<text transform="translate(201.50,70.40) scale(1,1.22)" x="0" y="0" font-size="6.0" text-anchor="end" font-weight="normal" font-style="normal" fill="#222" >20</text>
<line x1="202.70" y1="52.92" x2="204.50" y2="52.92" stroke="#000" stroke-width="1"/>
<line x1="349.30" y1="52.92" x2="347.50" y2="52.92" stroke="#000" stroke-width="1"/>
<text transform="translate(201.50,55.92) scale(1,1.22)" x="0" y="0" font-size="6.0" text-anchor="end" font-weight="normal" font-style="normal" fill="#222" >25</text>
<line x1="202.70" y1="38.45" x2="204.50" y2="38.45" stroke="#000" stroke-width="1"/>
<line x1="349.30" y1="38.45" x2="347.50" y2="38.45" stroke="#000" stroke-width="1"/>
<text transform="translate(201.50,41.45) scale(1,1.22)" x="0" y="0" font-size="6.0" text-anchor="end" font-weight="normal" font-style="normal" fill="#222" >30</text>
<line x1="202.70" y1="23.97" x2="204.50" y2="23.97" stroke="#000" stroke-width="1"/>
<line x1="349.30" y1="23.97" x2="347.50" y2="23.97" stroke="#000" stroke-width="1"/>
<text transform="translate(201.50,26.97) scale(1,1.22)" x="0" y="0" font-size="6.0" text-anchor="end" font-weight="normal" font-style="normal" fill="#222" >35</text>
<line x1="202.70" y1="9.50" x2="204.50" y2="9.50" stroke="#000" stroke-width="1"/>
<line x1="349.30" y1="9.50" x2="347.50" y2="9.50" stroke="#000" stroke-width="1"/>
<text transform="translate(201.50,12.50) scale(1,1.22)" x="0" y="0" font-size="6.0" text-anchor="end" font-weight="normal" font-style="normal" fill="#222" >40</text>
<text transform="translate(272.90,146.70) scale(1,1.12)" x="0" y="0" font-size="9.8" text-anchor="middle" font-weight="bold" font-style="normal" fill="#000" >R (mm)</text>
<g transform="translate(188.6,69.6) rotate(-90) scale(1.1,1)"><text x="0" y="0" font-size="9.3" text-anchor="middle" font-weight="bold"><tspan font-style="italic" font-size="10.5">&#8467;</tspan><tspan font-size="8.5" font-style="italic" dy="1.6">&#952;</tspan><tspan dy="-1.6" dx="1.0"> (mm)</tspan></text></g>
<text x="179.5" y="11.8" font-size="12.5" text-anchor="start" font-weight="bold" font-style="normal" fill="#000" >b</text>
<line x1="221.40" y1="96.20" x2="221.40" y2="106.50" stroke="#e83a3a" stroke-width="1.0"/>
<line x1="220.20" y1="96.20" x2="222.60" y2="96.20" stroke="#e83a3a" stroke-width="1.0"/>
<line x1="220.20" y1="106.50" x2="222.60" y2="106.50" stroke="#e83a3a" stroke-width="1.0"/>
<circle cx="221.40" cy="101.30" r="1.8" fill="none" stroke="#e83a3a" stroke-width="1.0"/>
<line x1="231.70" y1="83.90" x2="231.70" y2="93.10" stroke="#e83a3a" stroke-width="1.0"/>
<line x1="230.50" y1="83.90" x2="232.90" y2="83.90" stroke="#e83a3a" stroke-width="1.0"/>
<line x1="230.50" y1="93.10" x2="232.90" y2="93.10" stroke="#e83a3a" stroke-width="1.0"/>
<circle cx="231.70" cy="88.60" r="1.8" fill="none" stroke="#e83a3a" stroke-width="1.0"/>
<line x1="242.00" y1="76.70" x2="242.00" y2="87.40" stroke="#e83a3a" stroke-width="1.0"/>
<line x1="240.80" y1="76.70" x2="243.20" y2="76.70" stroke="#e83a3a" stroke-width="1.0"/>
<line x1="240.80" y1="87.40" x2="243.20" y2="87.40" stroke="#e83a3a" stroke-width="1.0"/>
<circle cx="242.00" cy="82.40" r="1.8" fill="none" stroke="#e83a3a" stroke-width="1.0"/>
<line x1="251.80" y1="67.50" x2="251.80" y2="82.80" stroke="#e83a3a" stroke-width="1.0"/>
<line x1="250.60" y1="67.50" x2="253.00" y2="67.50" stroke="#e83a3a" stroke-width="1.0"/>
<line x1="250.60" y1="82.80" x2="253.00" y2="82.80" stroke="#e83a3a" stroke-width="1.0"/>
<circle cx="251.80" cy="75.00" r="1.8" fill="none" stroke="#e83a3a" stroke-width="1.0"/>
<line x1="262.00" y1="59.40" x2="262.00" y2="83.30" stroke="#e83a3a" stroke-width="1.0"/>
<line x1="260.80" y1="59.40" x2="263.20" y2="59.40" stroke="#e83a3a" stroke-width="1.0"/>
<line x1="260.80" y1="83.30" x2="263.20" y2="83.30" stroke="#e83a3a" stroke-width="1.0"/>
<circle cx="262.00" cy="70.90" r="1.8" fill="none" stroke="#e83a3a" stroke-width="1.0"/>
<line x1="272.30" y1="52.40" x2="272.30" y2="73.00" stroke="#e83a3a" stroke-width="1.0"/>
<line x1="271.10" y1="52.40" x2="273.50" y2="52.40" stroke="#e83a3a" stroke-width="1.0"/>
<line x1="271.10" y1="73.00" x2="273.50" y2="73.00" stroke="#e83a3a" stroke-width="1.0"/>
<circle cx="272.30" cy="64.00" r="1.8" fill="none" stroke="#e83a3a" stroke-width="1.0"/>
<line x1="282.60" y1="52.40" x2="282.60" y2="66.60" stroke="#e83a3a" stroke-width="1.0"/>
<line x1="281.40" y1="52.40" x2="283.80" y2="52.40" stroke="#e83a3a" stroke-width="1.0"/>
<line x1="281.40" y1="66.60" x2="283.80" y2="66.60" stroke="#e83a3a" stroke-width="1.0"/>
<circle cx="282.60" cy="59.60" r="1.8" fill="none" stroke="#e83a3a" stroke-width="1.0"/>
<line x1="292.70" y1="42.90" x2="292.70" y2="56.80" stroke="#e83a3a" stroke-width="1.0"/>
<line x1="291.50" y1="42.90" x2="293.90" y2="42.90" stroke="#e83a3a" stroke-width="1.0"/>
<line x1="291.50" y1="56.80" x2="293.90" y2="56.80" stroke="#e83a3a" stroke-width="1.0"/>
<circle cx="292.70" cy="51.10" r="1.8" fill="none" stroke="#e83a3a" stroke-width="1.0"/>
<line x1="302.90" y1="45.50" x2="302.90" y2="60.10" stroke="#e83a3a" stroke-width="1.0"/>
<line x1="301.70" y1="45.50" x2="304.10" y2="45.50" stroke="#e83a3a" stroke-width="1.0"/>
<line x1="301.70" y1="60.10" x2="304.10" y2="60.10" stroke="#e83a3a" stroke-width="1.0"/>
<circle cx="302.90" cy="51.90" r="1.8" fill="none" stroke="#e83a3a" stroke-width="1.0"/>
<line x1="313.20" y1="35.20" x2="313.20" y2="60.10" stroke="#e83a3a" stroke-width="1.0"/>
<line x1="312.00" y1="35.20" x2="314.40" y2="35.20" stroke="#e83a3a" stroke-width="1.0"/>
<line x1="312.00" y1="60.10" x2="314.40" y2="60.10" stroke="#e83a3a" stroke-width="1.0"/>
<circle cx="313.20" cy="47.80" r="1.8" fill="none" stroke="#e83a3a" stroke-width="1.0"/>
<line x1="323.00" y1="33.70" x2="323.00" y2="56.80" stroke="#e83a3a" stroke-width="1.0"/>
<line x1="321.80" y1="33.70" x2="324.20" y2="33.70" stroke="#e83a3a" stroke-width="1.0"/>
<line x1="321.80" y1="56.80" x2="324.20" y2="56.80" stroke="#e83a3a" stroke-width="1.0"/>
<circle cx="323.00" cy="44.70" r="1.8" fill="none" stroke="#e83a3a" stroke-width="1.0"/>
<line x1="333.30" y1="24.10" x2="333.30" y2="43.40" stroke="#e83a3a" stroke-width="1.0"/>
<line x1="332.10" y1="24.10" x2="334.50" y2="24.10" stroke="#e83a3a" stroke-width="1.0"/>
<line x1="332.10" y1="43.40" x2="334.50" y2="43.40" stroke="#e83a3a" stroke-width="1.0"/>
<circle cx="333.30" cy="33.70" r="1.8" fill="none" stroke="#e83a3a" stroke-width="1.0"/>
<line x1="343.60" y1="24.10" x2="343.60" y2="55.80" stroke="#e83a3a" stroke-width="1.0"/>
<line x1="342.40" y1="24.10" x2="344.80" y2="24.10" stroke="#e83a3a" stroke-width="1.0"/>
<line x1="342.40" y1="55.80" x2="344.80" y2="55.80" stroke="#e83a3a" stroke-width="1.0"/>
<circle cx="343.60" cy="39.60" r="1.8" fill="none" stroke="#e83a3a" stroke-width="1.0"/>
<line x1="216.30" y1="100.30" x2="216.30" y2="106.50" stroke="#3aaa3a" stroke-width="1.0"/>
<line x1="215.10" y1="100.30" x2="217.50" y2="100.30" stroke="#3aaa3a" stroke-width="1.0"/>
<line x1="215.10" y1="106.50" x2="217.50" y2="106.50" stroke="#3aaa3a" stroke-width="1.0"/>
<path d="M214.20,101.17 L218.40,101.17 L216.30,104.83 Z" fill="none" stroke="#3aaa3a" stroke-width="1.0" stroke-linejoin="miter"/>
<line x1="226.60" y1="93.10" x2="226.60" y2="101.30" stroke="#3aaa3a" stroke-width="1.0"/>
<line x1="225.40" y1="93.10" x2="227.80" y2="93.10" stroke="#3aaa3a" stroke-width="1.0"/>
<line x1="225.40" y1="101.30" x2="227.80" y2="101.30" stroke="#3aaa3a" stroke-width="1.0"/>
<path d="M224.50,94.97 L228.70,94.97 L226.60,98.63 Z" fill="none" stroke="#3aaa3a" stroke-width="1.0" stroke-linejoin="miter"/>
<line x1="236.80" y1="81.80" x2="236.80" y2="96.20" stroke="#3aaa3a" stroke-width="1.0"/>
<line x1="235.60" y1="81.80" x2="238.00" y2="81.80" stroke="#3aaa3a" stroke-width="1.0"/>
<line x1="235.60" y1="96.20" x2="238.00" y2="96.20" stroke="#3aaa3a" stroke-width="1.0"/>
<path d="M234.70,86.17 L238.90,86.17 L236.80,89.83 Z" fill="none" stroke="#3aaa3a" stroke-width="1.0" stroke-linejoin="miter"/>
<line x1="247.10" y1="72.60" x2="247.10" y2="84.90" stroke="#3aaa3a" stroke-width="1.0"/>
<line x1="245.90" y1="72.60" x2="248.30" y2="72.60" stroke="#3aaa3a" stroke-width="1.0"/>
<line x1="245.90" y1="84.90" x2="248.30" y2="84.90" stroke="#3aaa3a" stroke-width="1.0"/>
<path d="M245.00,76.87 L249.20,76.87 L247.10,80.53 Z" fill="none" stroke="#3aaa3a" stroke-width="1.0" stroke-linejoin="miter"/>
<line x1="257.30" y1="65.40" x2="257.30" y2="88.00" stroke="#3aaa3a" stroke-width="1.0"/>
<line x1="256.10" y1="65.40" x2="258.50" y2="65.40" stroke="#3aaa3a" stroke-width="1.0"/>
<line x1="256.10" y1="88.00" x2="258.50" y2="88.00" stroke="#3aaa3a" stroke-width="1.0"/>
<path d="M255.20,74.47 L259.40,74.47 L257.30,78.13 Z" fill="none" stroke="#3aaa3a" stroke-width="1.0" stroke-linejoin="miter"/>
<line x1="267.60" y1="55.10" x2="267.60" y2="75.70" stroke="#3aaa3a" stroke-width="1.0"/>
<line x1="266.40" y1="55.10" x2="268.80" y2="55.10" stroke="#3aaa3a" stroke-width="1.0"/>
<line x1="266.40" y1="75.70" x2="268.80" y2="75.70" stroke="#3aaa3a" stroke-width="1.0"/>
<path d="M265.50,62.97 L269.70,62.97 L267.60,66.63 Z" fill="none" stroke="#3aaa3a" stroke-width="1.0" stroke-linejoin="miter"/>
<line x1="223.10" y1="91.10" x2="223.10" y2="101.30" stroke="#111" stroke-width="1.0"/>
<line x1="221.90" y1="91.10" x2="224.30" y2="91.10" stroke="#111" stroke-width="1.0"/>
<line x1="221.90" y1="101.30" x2="224.30" y2="101.30" stroke="#111" stroke-width="1.0"/>
<circle cx="223.10" cy="97.60" r="1.8" fill="none" stroke="#111" stroke-width="1.0"/>
<line x1="232.70" y1="79.80" x2="232.70" y2="88.00" stroke="#111" stroke-width="1.0"/>
<line x1="231.50" y1="79.80" x2="233.90" y2="79.80" stroke="#111" stroke-width="1.0"/>
<line x1="231.50" y1="88.00" x2="233.90" y2="88.00" stroke="#111" stroke-width="1.0"/>
<circle cx="232.70" cy="84.90" r="1.8" fill="none" stroke="#111" stroke-width="1.0"/>
<line x1="243.00" y1="61.30" x2="243.00" y2="80.80" stroke="#111" stroke-width="1.0"/>
<line x1="241.80" y1="61.30" x2="244.20" y2="61.30" stroke="#111" stroke-width="1.0"/>
<line x1="241.80" y1="80.80" x2="244.20" y2="80.80" stroke="#111" stroke-width="1.0"/>
<circle cx="243.00" cy="71.60" r="1.8" fill="none" stroke="#111" stroke-width="1.0"/>
<line x1="253.70" y1="58.20" x2="253.70" y2="70.50" stroke="#111" stroke-width="1.0"/>
<line x1="252.50" y1="58.20" x2="254.90" y2="58.20" stroke="#111" stroke-width="1.0"/>
<line x1="252.50" y1="70.50" x2="254.90" y2="70.50" stroke="#111" stroke-width="1.0"/>
<circle cx="253.70" cy="64.80" r="1.8" fill="none" stroke="#111" stroke-width="1.0"/>
<line x1="263.90" y1="51.10" x2="263.90" y2="71.20" stroke="#111" stroke-width="1.0"/>
<line x1="262.70" y1="51.10" x2="265.10" y2="51.10" stroke="#111" stroke-width="1.0"/>
<line x1="262.70" y1="71.20" x2="265.10" y2="71.20" stroke="#111" stroke-width="1.0"/>
<circle cx="263.90" cy="60.90" r="1.8" fill="none" stroke="#111" stroke-width="1.0"/>
<line x1="274.10" y1="51.10" x2="274.10" y2="67.10" stroke="#111" stroke-width="1.0"/>
<line x1="272.90" y1="51.10" x2="275.30" y2="51.10" stroke="#111" stroke-width="1.0"/>
<line x1="272.90" y1="67.10" x2="275.30" y2="67.10" stroke="#111" stroke-width="1.0"/>
<circle cx="274.10" cy="58.90" r="1.8" fill="none" stroke="#111" stroke-width="1.0"/>
<line x1="283.90" y1="38.30" x2="283.90" y2="55.80" stroke="#111" stroke-width="1.0"/>
<line x1="282.70" y1="38.30" x2="285.10" y2="38.30" stroke="#111" stroke-width="1.0"/>
<line x1="282.70" y1="55.80" x2="285.10" y2="55.80" stroke="#111" stroke-width="1.0"/>
<circle cx="283.90" cy="46.50" r="1.8" fill="none" stroke="#111" stroke-width="1.0"/>
<line x1="293.90" y1="31.90" x2="293.90" y2="48.10" stroke="#111" stroke-width="1.0"/>
<line x1="292.70" y1="31.90" x2="295.10" y2="31.90" stroke="#111" stroke-width="1.0"/>
<line x1="292.70" y1="48.10" x2="295.10" y2="48.10" stroke="#111" stroke-width="1.0"/>
<circle cx="293.90" cy="39.10" r="1.8" fill="none" stroke="#111" stroke-width="1.0"/>
<rect x="205" y="11.4" width="55.4" height="25.6" fill="#fff" stroke="#111" stroke-width="1"/>
<path d="M212.30,15.12 L215.70,15.12 L214.00,18.08 Z" fill="none" stroke="#6b6" stroke-width="0.7" stroke-linejoin="miter"/>
<circle cx="214.00" cy="25.00" r="1.5" fill="none" stroke="#777" stroke-width="0.7"/>
<circle cx="214.00" cy="32.60" r="1.6" fill="none" stroke="#e77" stroke-width="0.7"/>
<text transform="translate(222.20,18.70) scale(1,1.12)" x="0" y="0" font-size="6.35" text-anchor="start" font-weight="normal" font-style="normal" fill="#222" >V=1.25 m/sec</text>
<text transform="translate(222.20,26.90) scale(1,1.12)" x="0" y="0" font-size="6.35" text-anchor="start" font-weight="normal" font-style="normal" fill="#222" >V=1.6 m/sec</text>
<text transform="translate(222.20,34.90) scale(1,1.12)" x="0" y="0" font-size="6.35" text-anchor="start" font-weight="normal" font-style="normal" fill="#222" >V=3.9 m/sec</text>
<rect x="74.5" y="158.3" width="230.30" height="181.10" fill="none" stroke="#000" stroke-width="1.4"/>
<line x1="74.50" y1="339.40" x2="74.50" y2="336.90" stroke="#000" stroke-width="1.2"/>
<line x1="74.50" y1="158.30" x2="74.50" y2="160.80" stroke="#000" stroke-width="1.2"/>
<text transform="translate(74.50,350.30) scale(1,1.2)" x="0" y="0" font-size="9.4" text-anchor="middle" font-weight="normal" font-style="normal" fill="#111" stroke="#111" stroke-width="0.2">0</text>
<line x1="126.80" y1="339.40" x2="126.80" y2="336.90" stroke="#000" stroke-width="1.2"/>
<line x1="126.80" y1="158.30" x2="126.80" y2="160.80" stroke="#000" stroke-width="1.2"/>
<text transform="translate(126.80,350.30) scale(1,1.2)" x="0" y="0" font-size="9.4" text-anchor="middle" font-weight="normal" font-style="normal" fill="#111" stroke="#111" stroke-width="0.2">50</text>
<line x1="179.10" y1="339.40" x2="179.10" y2="336.90" stroke="#000" stroke-width="1.2"/>
<line x1="179.10" y1="158.30" x2="179.10" y2="160.80" stroke="#000" stroke-width="1.2"/>
<text transform="translate(179.10,350.30) scale(1,1.2)" x="0" y="0" font-size="9.4" text-anchor="middle" font-weight="normal" font-style="normal" fill="#111" stroke="#111" stroke-width="0.2">100</text>
<line x1="231.40" y1="339.40" x2="231.40" y2="336.90" stroke="#000" stroke-width="1.2"/>
<line x1="231.40" y1="158.30" x2="231.40" y2="160.80" stroke="#000" stroke-width="1.2"/>
<text transform="translate(231.40,350.30) scale(1,1.2)" x="0" y="0" font-size="9.4" text-anchor="middle" font-weight="normal" font-style="normal" fill="#111" stroke="#111" stroke-width="0.2">150</text>
<line x1="283.70" y1="339.40" x2="283.70" y2="336.90" stroke="#000" stroke-width="1.2"/>
<line x1="283.70" y1="158.30" x2="283.70" y2="160.80" stroke="#000" stroke-width="1.2"/>
<text transform="translate(283.70,350.30) scale(1,1.2)" x="0" y="0" font-size="9.4" text-anchor="middle" font-weight="normal" font-style="normal" fill="#111" stroke="#111" stroke-width="0.2">200</text>
<line x1="74.50" y1="339.40" x2="77.00" y2="339.40" stroke="#000" stroke-width="1.2"/>
<line x1="304.80" y1="339.40" x2="302.30" y2="339.40" stroke="#000" stroke-width="1.2"/>
<text transform="translate(72.90,343.10) scale(1,1.2)" x="0" y="0" font-size="9.4" text-anchor="end" font-weight="normal" font-style="normal" fill="#111" stroke="#111" stroke-width="0.2">0</text>
<line x1="74.50" y1="316.76" x2="77.00" y2="316.76" stroke="#000" stroke-width="1.2"/>
<line x1="304.80" y1="316.76" x2="302.30" y2="316.76" stroke="#000" stroke-width="1.2"/>
<text transform="translate(72.90,320.46) scale(1,1.2)" x="0" y="0" font-size="9.4" text-anchor="end" font-weight="normal" font-style="normal" fill="#111" stroke="#111" stroke-width="0.2">5</text>
<line x1="74.50" y1="294.12" x2="77.00" y2="294.12" stroke="#000" stroke-width="1.2"/>
<line x1="304.80" y1="294.12" x2="302.30" y2="294.12" stroke="#000" stroke-width="1.2"/>
<text transform="translate(72.90,297.82) scale(1,1.2)" x="0" y="0" font-size="9.4" text-anchor="end" font-weight="normal" font-style="normal" fill="#111" stroke="#111" stroke-width="0.2">10</text>
<line x1="74.50" y1="271.49" x2="77.00" y2="271.49" stroke="#000" stroke-width="1.2"/>
<line x1="304.80" y1="271.49" x2="302.30" y2="271.49" stroke="#000" stroke-width="1.2"/>
<text transform="translate(72.90,275.19) scale(1,1.2)" x="0" y="0" font-size="9.4" text-anchor="end" font-weight="normal" font-style="normal" fill="#111" stroke="#111" stroke-width="0.2">15</text>
<line x1="74.50" y1="248.85" x2="77.00" y2="248.85" stroke="#000" stroke-width="1.2"/>
<line x1="304.80" y1="248.85" x2="302.30" y2="248.85" stroke="#000" stroke-width="1.2"/>
<text transform="translate(72.90,252.55) scale(1,1.2)" x="0" y="0" font-size="9.4" text-anchor="end" font-weight="normal" font-style="normal" fill="#111" stroke="#111" stroke-width="0.2">20</text>
<line x1="74.50" y1="226.21" x2="77.00" y2="226.21" stroke="#000" stroke-width="1.2"/>
<line x1="304.80" y1="226.21" x2="302.30" y2="226.21" stroke="#000" stroke-width="1.2"/>
<text transform="translate(72.90,229.91) scale(1,1.2)" x="0" y="0" font-size="9.4" text-anchor="end" font-weight="normal" font-style="normal" fill="#111" stroke="#111" stroke-width="0.2">25</text>
<line x1="74.50" y1="203.57" x2="77.00" y2="203.57" stroke="#000" stroke-width="1.2"/>
<line x1="304.80" y1="203.57" x2="302.30" y2="203.57" stroke="#000" stroke-width="1.2"/>
<text transform="translate(72.90,207.27) scale(1,1.2)" x="0" y="0" font-size="9.4" text-anchor="end" font-weight="normal" font-style="normal" fill="#111" stroke="#111" stroke-width="0.2">30</text>
<line x1="74.50" y1="180.94" x2="77.00" y2="180.94" stroke="#000" stroke-width="1.2"/>
<line x1="304.80" y1="180.94" x2="302.30" y2="180.94" stroke="#000" stroke-width="1.2"/>
<text transform="translate(72.90,184.64) scale(1,1.2)" x="0" y="0" font-size="9.4" text-anchor="end" font-weight="normal" font-style="normal" fill="#111" stroke="#111" stroke-width="0.2">35</text>
<line x1="74.50" y1="158.30" x2="77.00" y2="158.30" stroke="#000" stroke-width="1.2"/>
<line x1="304.80" y1="158.30" x2="302.30" y2="158.30" stroke="#000" stroke-width="1.2"/>
<text transform="translate(72.90,162.00) scale(1,1.2)" x="0" y="0" font-size="9.4" text-anchor="end" font-weight="normal" font-style="normal" fill="#111" stroke="#111" stroke-width="0.2">40</text>
<text transform="translate(183.50,361.50) scale(1,1.12)" x="0" y="0" font-size="9.8" text-anchor="middle" font-weight="bold" font-style="normal" fill="#000" >R (mm)</text>
<g transform="translate(51.6,237.8) rotate(-90) scale(1.1,1)"><text x="0" y="0" font-size="9.3" text-anchor="middle" font-weight="bold"><tspan font-style="italic" font-size="10.5">&#8467;</tspan><tspan font-size="8.5" font-style="italic" dy="1.6">&#952;</tspan><tspan dy="-1.6" dx="1.5"> (mm)</tspan></text></g>
<text transform="translate(49.10,164.00) scale(1,1.1)" x="0" y="0" font-size="12.8" text-anchor="start" font-weight="bold" font-style="normal" fill="#000" >c</text>
<line x1="90.20" y1="285.70" x2="90.20" y2="313.60" stroke="#ee2a2a" stroke-width="1.3"/>
<line x1="89.00" y1="285.70" x2="91.40" y2="285.70" stroke="#ee2a2a" stroke-width="1.3"/>
<line x1="89.00" y1="313.60" x2="91.40" y2="313.60" stroke="#ee2a2a" stroke-width="1.3"/>
<path d="M87.10,296.80 L93.30,296.80 L90.20,302.20 Z" fill="none" stroke="#ee2a2a" stroke-width="1.3" stroke-linejoin="miter"/>
<line x1="100.60" y1="250.50" x2="100.60" y2="289.30" stroke="#ee2a2a" stroke-width="1.3"/>
<line x1="99.40" y1="250.50" x2="101.80" y2="250.50" stroke="#ee2a2a" stroke-width="1.3"/>
<line x1="99.40" y1="289.30" x2="101.80" y2="289.30" stroke="#ee2a2a" stroke-width="1.3"/>
<path d="M97.50,267.20 L103.70,267.20 L100.60,272.60 Z" fill="none" stroke="#ee2a2a" stroke-width="1.3" stroke-linejoin="miter"/>
<line x1="111.20" y1="238.40" x2="111.20" y2="273.60" stroke="#ee2a2a" stroke-width="1.3"/>
<line x1="110.00" y1="238.40" x2="112.40" y2="238.40" stroke="#ee2a2a" stroke-width="1.3"/>
<line x1="110.00" y1="273.60" x2="112.40" y2="273.60" stroke="#ee2a2a" stroke-width="1.3"/>
<path d="M108.10,252.80 L114.30,252.80 L111.20,258.20 Z" fill="none" stroke="#ee2a2a" stroke-width="1.3" stroke-linejoin="miter"/>
<line x1="121.30" y1="218.60" x2="121.30" y2="259.00" stroke="#ee2a2a" stroke-width="1.3"/>
<line x1="120.10" y1="218.60" x2="122.50" y2="218.60" stroke="#ee2a2a" stroke-width="1.3"/>
<line x1="120.10" y1="259.00" x2="122.50" y2="259.00" stroke="#ee2a2a" stroke-width="1.3"/>
<path d="M118.20,235.70 L124.40,235.70 L121.30,241.10 Z" fill="none" stroke="#ee2a2a" stroke-width="1.3" stroke-linejoin="miter"/>
<line x1="131.80" y1="186.80" x2="131.80" y2="232.90" stroke="#ee2a2a" stroke-width="1.3"/>
<line x1="130.60" y1="186.80" x2="133.00" y2="186.80" stroke="#ee2a2a" stroke-width="1.3"/>
<line x1="130.60" y1="232.90" x2="133.00" y2="232.90" stroke="#ee2a2a" stroke-width="1.3"/>
<path d="M128.70,207.20 L134.90,207.20 L131.80,212.60 Z" fill="none" stroke="#ee2a2a" stroke-width="1.3" stroke-linejoin="miter"/>
<line x1="142.60" y1="184.40" x2="142.60" y2="236.00" stroke="#ee2a2a" stroke-width="1.3"/>
<line x1="141.40" y1="184.40" x2="143.80" y2="184.40" stroke="#ee2a2a" stroke-width="1.3"/>
<line x1="141.40" y1="236.00" x2="143.80" y2="236.00" stroke="#ee2a2a" stroke-width="1.3"/>
<path d="M139.50,207.80 L145.70,207.80 L142.60,213.20 Z" fill="none" stroke="#ee2a2a" stroke-width="1.3" stroke-linejoin="miter"/>
<line x1="153.70" y1="177.20" x2="153.70" y2="218.30" stroke="#ee2a2a" stroke-width="1.3"/>
<line x1="152.50" y1="177.20" x2="154.90" y2="177.20" stroke="#ee2a2a" stroke-width="1.3"/>
<line x1="152.50" y1="218.30" x2="154.90" y2="218.30" stroke="#ee2a2a" stroke-width="1.3"/>
<path d="M150.60,194.80 L156.80,194.80 L153.70,200.20 Z" fill="none" stroke="#ee2a2a" stroke-width="1.3" stroke-linejoin="miter"/>
<line x1="86.80" y1="303.70" x2="86.80" y2="319.30" stroke="#a02ca4" stroke-width="1.3"/>
<line x1="85.60" y1="303.70" x2="88.00" y2="303.70" stroke="#a02ca4" stroke-width="1.3"/>
<line x1="85.60" y1="319.30" x2="88.00" y2="319.30" stroke="#a02ca4" stroke-width="1.3"/>
<rect x="84.40" y="308.70" width="4.8" height="4.8" fill="none" stroke="#a02ca4" stroke-width="1.3"/>
<line x1="97.70" y1="289.50" x2="97.70" y2="304.50" stroke="#a02ca4" stroke-width="1.3"/>
<line x1="96.50" y1="289.50" x2="98.90" y2="289.50" stroke="#a02ca4" stroke-width="1.3"/>
<line x1="96.50" y1="304.50" x2="98.90" y2="304.50" stroke="#a02ca4" stroke-width="1.3"/>
<rect x="95.30" y="294.60" width="4.8" height="4.8" fill="none" stroke="#a02ca4" stroke-width="1.3"/>
<line x1="107.60" y1="271.40" x2="107.60" y2="285.80" stroke="#a02ca4" stroke-width="1.3"/>
<line x1="106.40" y1="271.40" x2="108.80" y2="271.40" stroke="#a02ca4" stroke-width="1.3"/>
<line x1="106.40" y1="285.80" x2="108.80" y2="285.80" stroke="#a02ca4" stroke-width="1.3"/>
<rect x="105.20" y="276.10" width="4.8" height="4.8" fill="none" stroke="#a02ca4" stroke-width="1.3"/>
<line x1="118.10" y1="252.80" x2="118.10" y2="269.70" stroke="#a02ca4" stroke-width="1.3"/>
<line x1="116.90" y1="252.80" x2="119.30" y2="252.80" stroke="#a02ca4" stroke-width="1.3"/>
<line x1="116.90" y1="269.70" x2="119.30" y2="269.70" stroke="#a02ca4" stroke-width="1.3"/>
<rect x="115.70" y="259.20" width="4.8" height="4.8" fill="none" stroke="#a02ca4" stroke-width="1.3"/>
<line x1="128.60" y1="243.40" x2="128.60" y2="281.20" stroke="#a02ca4" stroke-width="1.3"/>
<line x1="127.40" y1="243.40" x2="129.80" y2="243.40" stroke="#a02ca4" stroke-width="1.3"/>
<line x1="127.40" y1="281.20" x2="129.80" y2="281.20" stroke="#a02ca4" stroke-width="1.3"/>
<rect x="126.20" y="260.70" width="4.8" height="4.8" fill="none" stroke="#a02ca4" stroke-width="1.3"/>
<line x1="138.80" y1="214.30" x2="138.80" y2="280.00" stroke="#a02ca4" stroke-width="1.3"/>
<line x1="137.60" y1="214.30" x2="140.00" y2="214.30" stroke="#a02ca4" stroke-width="1.3"/>
<line x1="137.60" y1="280.00" x2="140.00" y2="280.00" stroke="#a02ca4" stroke-width="1.3"/>
<rect x="136.40" y="242.10" width="4.8" height="4.8" fill="none" stroke="#a02ca4" stroke-width="1.3"/>
<line x1="149.70" y1="230.50" x2="149.70" y2="239.40" stroke="#a02ca4" stroke-width="1.3"/>
<line x1="148.50" y1="230.50" x2="150.90" y2="230.50" stroke="#a02ca4" stroke-width="1.3"/>
<line x1="148.50" y1="239.40" x2="150.90" y2="239.40" stroke="#a02ca4" stroke-width="1.3"/>
<rect x="147.30" y="231.60" width="4.8" height="4.8" fill="none" stroke="#a02ca4" stroke-width="1.3"/>
<line x1="160.20" y1="212.20" x2="160.20" y2="236.90" stroke="#a02ca4" stroke-width="1.3"/>
<line x1="159.00" y1="212.20" x2="161.40" y2="212.20" stroke="#a02ca4" stroke-width="1.3"/>
<line x1="159.00" y1="236.90" x2="161.40" y2="236.90" stroke="#a02ca4" stroke-width="1.3"/>
<rect x="157.80" y="222.00" width="4.8" height="4.8" fill="none" stroke="#a02ca4" stroke-width="1.3"/>
<line x1="171.00" y1="195.50" x2="171.00" y2="221.70" stroke="#a02ca4" stroke-width="1.3"/>
<line x1="169.80" y1="195.50" x2="172.20" y2="195.50" stroke="#a02ca4" stroke-width="1.3"/>
<line x1="169.80" y1="221.70" x2="172.20" y2="221.70" stroke="#a02ca4" stroke-width="1.3"/>
<rect x="168.60" y="206.10" width="4.8" height="4.8" fill="none" stroke="#a02ca4" stroke-width="1.3"/>
<line x1="181.30" y1="190.80" x2="181.30" y2="220.20" stroke="#a02ca4" stroke-width="1.3"/>
<line x1="180.10" y1="190.80" x2="182.50" y2="190.80" stroke="#a02ca4" stroke-width="1.3"/>
<line x1="180.10" y1="220.20" x2="182.50" y2="220.20" stroke="#a02ca4" stroke-width="1.3"/>
<rect x="178.90" y="203.10" width="4.8" height="4.8" fill="none" stroke="#a02ca4" stroke-width="1.3"/>
<line x1="192.10" y1="180.50" x2="192.10" y2="216.80" stroke="#a02ca4" stroke-width="1.3"/>
<line x1="190.90" y1="180.50" x2="193.30" y2="180.50" stroke="#a02ca4" stroke-width="1.3"/>
<line x1="190.90" y1="216.80" x2="193.30" y2="216.80" stroke="#a02ca4" stroke-width="1.3"/>
<rect x="189.70" y="196.30" width="4.8" height="4.8" fill="none" stroke="#a02ca4" stroke-width="1.3"/>
<line x1="98.00" y1="300.40" x2="98.00" y2="316.00" stroke="#2ea23e" stroke-width="1.3"/>
<line x1="96.80" y1="300.40" x2="99.20" y2="300.40" stroke="#2ea23e" stroke-width="1.3"/>
<line x1="96.80" y1="316.00" x2="99.20" y2="316.00" stroke="#2ea23e" stroke-width="1.3"/>
<circle cx="98.00" cy="307.50" r="2.4" fill="none" stroke="#2ea23e" stroke-width="1.3"/>
<line x1="108.20" y1="291.60" x2="108.20" y2="307.00" stroke="#2ea23e" stroke-width="1.3"/>
<line x1="107.00" y1="291.60" x2="109.40" y2="291.60" stroke="#2ea23e" stroke-width="1.3"/>
<line x1="107.00" y1="307.00" x2="109.40" y2="307.00" stroke="#2ea23e" stroke-width="1.3"/>
<circle cx="108.20" cy="298.80" r="2.4" fill="none" stroke="#2ea23e" stroke-width="1.3"/>
<line x1="118.60" y1="282.50" x2="118.60" y2="300.00" stroke="#2ea23e" stroke-width="1.3"/>
<line x1="117.40" y1="282.50" x2="119.80" y2="282.50" stroke="#2ea23e" stroke-width="1.3"/>
<line x1="117.40" y1="300.00" x2="119.80" y2="300.00" stroke="#2ea23e" stroke-width="1.3"/>
<circle cx="118.60" cy="291.30" r="2.4" fill="none" stroke="#2ea23e" stroke-width="1.3"/>
<line x1="129.20" y1="276.40" x2="129.20" y2="287.90" stroke="#2ea23e" stroke-width="1.3"/>
<line x1="128.00" y1="276.40" x2="130.40" y2="276.40" stroke="#2ea23e" stroke-width="1.3"/>
<line x1="128.00" y1="287.90" x2="130.40" y2="287.90" stroke="#2ea23e" stroke-width="1.3"/>
<circle cx="129.20" cy="281.60" r="2.4" fill="none" stroke="#2ea23e" stroke-width="1.3"/>
<line x1="139.40" y1="258.80" x2="139.40" y2="283.70" stroke="#2ea23e" stroke-width="1.3"/>
<line x1="138.20" y1="258.80" x2="140.60" y2="258.80" stroke="#2ea23e" stroke-width="1.3"/>
<line x1="138.20" y1="283.70" x2="140.60" y2="283.70" stroke="#2ea23e" stroke-width="1.3"/>
<circle cx="139.40" cy="271.20" r="2.4" fill="none" stroke="#2ea23e" stroke-width="1.3"/>
<line x1="150.20" y1="246.90" x2="150.20" y2="263.30" stroke="#2ea23e" stroke-width="1.3"/>
<line x1="149.00" y1="246.90" x2="151.40" y2="246.90" stroke="#2ea23e" stroke-width="1.3"/>
<line x1="149.00" y1="263.30" x2="151.40" y2="263.30" stroke="#2ea23e" stroke-width="1.3"/>
<circle cx="150.20" cy="255.20" r="2.4" fill="none" stroke="#2ea23e" stroke-width="1.3"/>
<line x1="161.30" y1="246.50" x2="161.30" y2="276.80" stroke="#2ea23e" stroke-width="1.3"/>
<line x1="160.10" y1="246.50" x2="162.50" y2="246.50" stroke="#2ea23e" stroke-width="1.3"/>
<line x1="160.10" y1="276.80" x2="162.50" y2="276.80" stroke="#2ea23e" stroke-width="1.3"/>
<circle cx="161.30" cy="261.80" r="2.4" fill="none" stroke="#2ea23e" stroke-width="1.3"/>
<line x1="172.00" y1="234.10" x2="172.00" y2="257.20" stroke="#2ea23e" stroke-width="1.3"/>
<line x1="170.80" y1="234.10" x2="173.20" y2="234.10" stroke="#2ea23e" stroke-width="1.3"/>
<line x1="170.80" y1="257.20" x2="173.20" y2="257.20" stroke="#2ea23e" stroke-width="1.3"/>
<circle cx="172.00" cy="245.80" r="2.4" fill="none" stroke="#2ea23e" stroke-width="1.3"/>
<line x1="182.30" y1="231.00" x2="182.30" y2="253.00" stroke="#2ea23e" stroke-width="1.3"/>
<line x1="181.10" y1="231.00" x2="183.50" y2="231.00" stroke="#2ea23e" stroke-width="1.3"/>
<line x1="181.10" y1="253.00" x2="183.50" y2="253.00" stroke="#2ea23e" stroke-width="1.3"/>
<circle cx="182.30" cy="242.70" r="2.4" fill="none" stroke="#2ea23e" stroke-width="1.3"/>
<line x1="192.00" y1="217.50" x2="192.00" y2="237.50" stroke="#2ea23e" stroke-width="1.3"/>
<line x1="190.80" y1="217.50" x2="193.20" y2="217.50" stroke="#2ea23e" stroke-width="1.3"/>
<line x1="190.80" y1="237.50" x2="193.20" y2="237.50" stroke="#2ea23e" stroke-width="1.3"/>
<circle cx="192.00" cy="227.20" r="2.4" fill="none" stroke="#2ea23e" stroke-width="1.3"/>
<line x1="202.80" y1="220.30" x2="202.80" y2="241.50" stroke="#2ea23e" stroke-width="1.3"/>
<line x1="201.60" y1="220.30" x2="204.00" y2="220.30" stroke="#2ea23e" stroke-width="1.3"/>
<line x1="201.60" y1="241.50" x2="204.00" y2="241.50" stroke="#2ea23e" stroke-width="1.3"/>
<circle cx="202.80" cy="231.30" r="2.4" fill="none" stroke="#2ea23e" stroke-width="1.3"/>
<line x1="213.40" y1="214.40" x2="213.40" y2="238.00" stroke="#2ea23e" stroke-width="1.3"/>
<line x1="212.20" y1="214.40" x2="214.60" y2="214.40" stroke="#2ea23e" stroke-width="1.3"/>
<line x1="212.20" y1="238.00" x2="214.60" y2="238.00" stroke="#2ea23e" stroke-width="1.3"/>
<circle cx="213.40" cy="226.00" r="2.4" fill="none" stroke="#2ea23e" stroke-width="1.3"/>
<line x1="104.30" y1="310.30" x2="104.30" y2="316.90" stroke="#1e2d9a" stroke-width="1.3"/>
<line x1="103.10" y1="310.30" x2="105.50" y2="310.30" stroke="#1e2d9a" stroke-width="1.3"/>
<line x1="103.10" y1="316.90" x2="105.50" y2="316.90" stroke="#1e2d9a" stroke-width="1.3"/>
<path d="M104.30,311.10 L106.40,313.60 L104.30,316.10 L102.20,313.60 Z" fill="none" stroke="#1e2d9a" stroke-width="1.3"/>
<line x1="114.30" y1="299.60" x2="114.30" y2="315.20" stroke="#1e2d9a" stroke-width="1.3"/>
<line x1="113.10" y1="299.60" x2="115.50" y2="299.60" stroke="#1e2d9a" stroke-width="1.3"/>
<line x1="113.10" y1="315.20" x2="115.50" y2="315.20" stroke="#1e2d9a" stroke-width="1.3"/>
<path d="M114.30,304.70 L116.40,307.20 L114.30,309.70 L112.20,307.20 Z" fill="none" stroke="#1e2d9a" stroke-width="1.3"/>
<line x1="125.30" y1="296.00" x2="125.30" y2="306.10" stroke="#1e2d9a" stroke-width="1.3"/>
<line x1="124.10" y1="296.00" x2="126.50" y2="296.00" stroke="#1e2d9a" stroke-width="1.3"/>
<line x1="124.10" y1="306.10" x2="126.50" y2="306.10" stroke="#1e2d9a" stroke-width="1.3"/>
<path d="M125.30,298.80 L127.40,301.30 L125.30,303.80 L123.20,301.30 Z" fill="none" stroke="#1e2d9a" stroke-width="1.3"/>
<line x1="135.90" y1="297.10" x2="135.90" y2="305.10" stroke="#1e2d9a" stroke-width="1.3"/>
<line x1="134.70" y1="297.10" x2="137.10" y2="297.10" stroke="#1e2d9a" stroke-width="1.3"/>
<line x1="134.70" y1="305.10" x2="137.10" y2="305.10" stroke="#1e2d9a" stroke-width="1.3"/>
<path d="M135.90,299.20 L138.00,301.70 L135.90,304.20 L133.80,301.70 Z" fill="none" stroke="#1e2d9a" stroke-width="1.3"/>
<line x1="146.00" y1="285.60" x2="146.00" y2="302.30" stroke="#1e2d9a" stroke-width="1.3"/>
<line x1="144.80" y1="285.60" x2="147.20" y2="285.60" stroke="#1e2d9a" stroke-width="1.3"/>
<line x1="144.80" y1="302.30" x2="147.20" y2="302.30" stroke="#1e2d9a" stroke-width="1.3"/>
<path d="M146.00,291.50 L148.10,294.00 L146.00,296.50 L143.90,294.00 Z" fill="none" stroke="#1e2d9a" stroke-width="1.3"/>
<line x1="156.50" y1="280.20" x2="156.50" y2="294.60" stroke="#1e2d9a" stroke-width="1.3"/>
<line x1="155.30" y1="280.20" x2="157.70" y2="280.20" stroke="#1e2d9a" stroke-width="1.3"/>
<line x1="155.30" y1="294.60" x2="157.70" y2="294.60" stroke="#1e2d9a" stroke-width="1.3"/>
<path d="M156.50,284.30 L158.60,286.80 L156.50,289.30 L154.40,286.80 Z" fill="none" stroke="#1e2d9a" stroke-width="1.3"/>
<line x1="167.40" y1="278.00" x2="167.40" y2="290.00" stroke="#1e2d9a" stroke-width="1.3"/>
<line x1="166.20" y1="278.00" x2="168.60" y2="278.00" stroke="#1e2d9a" stroke-width="1.3"/>
<line x1="166.20" y1="290.00" x2="168.60" y2="290.00" stroke="#1e2d9a" stroke-width="1.3"/>
<path d="M167.40,281.40 L169.50,283.90 L167.40,286.40 L165.30,283.90 Z" fill="none" stroke="#1e2d9a" stroke-width="1.3"/>
<line x1="178.00" y1="257.20" x2="178.00" y2="278.50" stroke="#1e2d9a" stroke-width="1.3"/>
<line x1="176.80" y1="257.20" x2="179.20" y2="257.20" stroke="#1e2d9a" stroke-width="1.3"/>
<line x1="176.80" y1="278.50" x2="179.20" y2="278.50" stroke="#1e2d9a" stroke-width="1.3"/>
<path d="M178.00,265.40 L180.10,267.90 L178.00,270.40 L175.90,267.90 Z" fill="none" stroke="#1e2d9a" stroke-width="1.3"/>
<line x1="188.00" y1="253.10" x2="188.00" y2="273.00" stroke="#1e2d9a" stroke-width="1.3"/>
<line x1="186.80" y1="253.10" x2="189.20" y2="253.10" stroke="#1e2d9a" stroke-width="1.3"/>
<line x1="186.80" y1="273.00" x2="189.20" y2="273.00" stroke="#1e2d9a" stroke-width="1.3"/>
<path d="M188.00,261.00 L190.10,263.50 L188.00,266.00 L185.90,263.50 Z" fill="none" stroke="#1e2d9a" stroke-width="1.3"/>
<line x1="198.60" y1="257.00" x2="198.60" y2="284.00" stroke="#1e2d9a" stroke-width="1.3"/>
<line x1="197.40" y1="257.00" x2="199.80" y2="257.00" stroke="#1e2d9a" stroke-width="1.3"/>
<line x1="197.40" y1="284.00" x2="199.80" y2="284.00" stroke="#1e2d9a" stroke-width="1.3"/>
<path d="M198.60,267.90 L200.70,270.40 L198.60,272.90 L196.50,270.40 Z" fill="none" stroke="#1e2d9a" stroke-width="1.3"/>
<line x1="209.00" y1="250.40" x2="209.00" y2="269.40" stroke="#1e2d9a" stroke-width="1.3"/>
<line x1="207.80" y1="250.40" x2="210.20" y2="250.40" stroke="#1e2d9a" stroke-width="1.3"/>
<line x1="207.80" y1="269.40" x2="210.20" y2="269.40" stroke="#1e2d9a" stroke-width="1.3"/>
<path d="M209.00,257.30 L211.10,259.80 L209.00,262.30 L206.90,259.80 Z" fill="none" stroke="#1e2d9a" stroke-width="1.3"/>
<line x1="219.00" y1="245.20" x2="219.00" y2="266.80" stroke="#1e2d9a" stroke-width="1.3"/>
<line x1="217.80" y1="245.20" x2="220.20" y2="245.20" stroke="#1e2d9a" stroke-width="1.3"/>
<line x1="217.80" y1="266.80" x2="220.20" y2="266.80" stroke="#1e2d9a" stroke-width="1.3"/>
<path d="M219.00,253.70 L221.10,256.20 L219.00,258.70 L216.90,256.20 Z" fill="none" stroke="#1e2d9a" stroke-width="1.3"/>
<path d="M153.1,307.1 L211.4,289.3 M153.1,307.1 L210.7,323.5" stroke="#1f4a8a" stroke-width="1.4" fill="none"/>
<ellipse cx="212.3" cy="306.4" rx="5.6" ry="17.2" fill="none" stroke="#1f4a8a" stroke-width="1.4"/>
<path d="M153.1,307.3 L194.3,307.3 L194.3,319" stroke="#000" stroke-width="1.4" fill="none"/>
<text x="173.6" y="326" font-size="9.5" text-anchor="middle" font-weight="bold" font-style="normal" fill="#000" >R</text>
<text x="197.8" y="318" font-size="9.5" text-anchor="middle" font-weight="bold" font-style="normal" fill="#000" >r</text>
<rect x="235.4" y="285.1" width="66.8" height="51.7" fill="#fff" stroke="#000" stroke-width="1.3"/>
<path d="M247.70,290.96 L253.30,290.96 L250.50,295.84 Z" fill="none" stroke="#ee2a2a" stroke-width="1.3" stroke-linejoin="miter"/>
<rect x="248.40" y="302.20" width="4.4" height="4.4" fill="none" stroke="#a02ca4" stroke-width="1.3"/>
<circle cx="250.50" cy="316.80" r="2.3" fill="none" stroke="#2ea23e" stroke-width="1.3"/>
<path d="M250.50,326.30 L252.75,328.90 L250.50,331.50 L248.25,328.90 Z" fill="none" stroke="#1e2d9a" stroke-width="1.3"/>
<text transform="translate(263.60,296.50) scale(1,1.12)" x="0" y="0" font-size="9.7" text-anchor="start" font-weight="normal" font-style="normal" fill="#111" stroke="#111" stroke-width="0.25">r/R=0.42</text>
<text transform="translate(263.60,308.40) scale(1,1.12)" x="0" y="0" font-size="9.7" text-anchor="start" font-weight="normal" font-style="normal" fill="#111" stroke="#111" stroke-width="0.25">r/R=0.25</text>
<text transform="translate(263.60,320.70) scale(1,1.12)" x="0" y="0" font-size="9.7" text-anchor="start" font-weight="normal" font-style="normal" fill="#111" stroke="#111" stroke-width="0.25">r/R=0.19</text>
<text transform="translate(263.60,333.50) scale(1,1.12)" x="0" y="0" font-size="9.7" text-anchor="start" font-weight="normal" font-style="normal" fill="#111" stroke="#111" stroke-width="0.25">r/R=0.13</text>
<rect x="225.8" y="165.5" width="73.80" height="55.90" fill="#fff" stroke="#000" stroke-width="1.3"/>
<line x1="268.60" y1="221.40" x2="268.60" y2="219.90" stroke="#000" stroke-width="1"/>
<line x1="225.80" y1="193.70" x2="227.30" y2="193.70" stroke="#000" stroke-width="1"/>
<line x1="299.60" y1="193.70" x2="298.10" y2="193.70" stroke="#000" stroke-width="1"/>
<text transform="translate(226.10,232.20) scale(1,1.15)" x="0" y="0" font-size="9.6" text-anchor="middle" font-weight="normal" font-style="normal" fill="#111" >0</text>
<text transform="translate(268.40,232.20) scale(1,1.15)" x="0" y="0" font-size="9.6" text-anchor="middle" font-weight="normal" font-style="normal" fill="#111" >20</text>
<text transform="translate(224.20,225.30) scale(1,1.15)" x="0" y="0" font-size="9.5" text-anchor="end" font-weight="normal" font-style="normal" fill="#111" >0</text>
<text transform="translate(224.20,197.50) scale(1,1.15)" x="0" y="0" font-size="9.5" text-anchor="end" font-weight="normal" font-style="normal" fill="#111" >20</text>
<text transform="translate(224.20,169.60) scale(1,1.15)" x="0" y="0" font-size="9.5" text-anchor="end" font-weight="normal" font-style="normal" fill="#111" >40</text>
<text transform="translate(266.00,240.20) scale(1,1.12)" x="0" y="0" font-size="9.8" text-anchor="middle" font-weight="bold" font-style="normal" fill="#000" >r (mm)</text>
<g transform="translate(208.3,191.3) rotate(-90) scale(1.1,1)"><text x="0" y="0" font-size="9.3" text-anchor="middle" font-weight="bold"><tspan font-style="italic" font-size="10.5">&#8467;</tspan><tspan font-size="8.5" font-style="italic" dy="1.6">&#952;</tspan><tspan dy="-1.6" dx="1.0"> (mm)</tspan></text></g>
<line x1="230.60" y1="208.40" x2="230.60" y2="214.40" stroke="#2ea23e" stroke-width="0.8"/>
<rect x="228.70" y="209.50" width="3.8" height="3.8" fill="none" stroke="#2ea23e" stroke-width="1.1"/>
<line x1="235.70" y1="203.90" x2="235.70" y2="209.90" stroke="#2ea23e" stroke-width="0.8"/>
<rect x="233.80" y="205.00" width="3.8" height="3.8" fill="none" stroke="#2ea23e" stroke-width="1.1"/>
<line x1="242.00" y1="198.70" x2="242.00" y2="204.70" stroke="#2ea23e" stroke-width="0.8"/>
<rect x="240.10" y="199.80" width="3.8" height="3.8" fill="none" stroke="#2ea23e" stroke-width="1.1"/>
<line x1="247.10" y1="194.10" x2="247.10" y2="200.10" stroke="#2ea23e" stroke-width="0.8"/>
<rect x="245.20" y="195.20" width="3.8" height="3.8" fill="none" stroke="#2ea23e" stroke-width="1.1"/>
<line x1="253.40" y1="190.70" x2="253.40" y2="196.70" stroke="#2ea23e" stroke-width="0.8"/>
<rect x="251.50" y="191.80" width="3.8" height="3.8" fill="none" stroke="#2ea23e" stroke-width="1.1"/>
<line x1="258.60" y1="187.90" x2="258.60" y2="193.90" stroke="#2ea23e" stroke-width="0.8"/>
<rect x="256.70" y="189.00" width="3.8" height="3.8" fill="none" stroke="#2ea23e" stroke-width="1.1"/>
<line x1="263.10" y1="185.00" x2="263.10" y2="191.00" stroke="#2ea23e" stroke-width="0.8"/>
<rect x="261.20" y="186.10" width="3.8" height="3.8" fill="none" stroke="#2ea23e" stroke-width="1.1"/>
<line x1="268.50" y1="181.00" x2="268.50" y2="187.00" stroke="#2ea23e" stroke-width="0.8"/>
<rect x="266.60" y="182.10" width="3.8" height="3.8" fill="none" stroke="#2ea23e" stroke-width="1.1"/>
<line x1="274.30" y1="176.90" x2="274.30" y2="182.90" stroke="#2ea23e" stroke-width="0.8"/>
<rect x="272.40" y="178.00" width="3.8" height="3.8" fill="none" stroke="#2ea23e" stroke-width="1.1"/>
<line x1="279.40" y1="176.30" x2="279.40" y2="182.30" stroke="#2ea23e" stroke-width="0.8"/>
<rect x="277.50" y="177.40" width="3.8" height="3.8" fill="none" stroke="#2ea23e" stroke-width="1.1"/>
<line x1="284.60" y1="174.60" x2="284.60" y2="180.60" stroke="#2ea23e" stroke-width="0.8"/>
<rect x="282.70" y="175.70" width="3.8" height="3.8" fill="none" stroke="#2ea23e" stroke-width="1.1"/>
<line x1="258.60" y1="182.30" x2="258.60" y2="193.00" stroke="#2ea23e" stroke-width="0.9"/>
<path d="M231.60,210.80 L233.70,213.40 L231.60,216.00 L229.50,213.40 Z" fill="none" stroke="#1e2d9a" stroke-width="1.2"/>
<path d="M230.80,210.00 L232.30,211.80 L230.80,213.60 L229.30,211.80 Z" fill="none" stroke="#3a3ab0" stroke-width="0.9"/>
<path d="M232.73,210.11 L234.83,212.71 L232.73,215.31 L230.63,212.71 Z" fill="none" stroke="#1e2d9a" stroke-width="1.2"/>
<path d="M233.86,209.42 L235.96,212.02 L233.86,214.62 L231.76,212.02 Z" fill="none" stroke="#1e2d9a" stroke-width="1.2"/>
<path d="M233.06,208.62 L234.56,210.42 L233.06,212.22 L231.56,210.42 Z" fill="none" stroke="#3a3ab0" stroke-width="0.9"/>
<path d="M234.99,208.73 L237.09,211.33 L234.99,213.93 L232.89,211.33 Z" fill="none" stroke="#1e2d9a" stroke-width="1.2"/>
<path d="M236.12,208.04 L238.22,210.64 L236.12,213.24 L234.02,210.64 Z" fill="none" stroke="#1e2d9a" stroke-width="1.2"/>
<path d="M235.32,207.24 L236.82,209.04 L235.32,210.84 L233.82,209.04 Z" fill="none" stroke="#3a3ab0" stroke-width="0.9"/>
<path d="M237.26,207.35 L239.36,209.95 L237.26,212.55 L235.16,209.95 Z" fill="none" stroke="#1e2d9a" stroke-width="1.2"/>
<path d="M238.39,206.66 L240.49,209.26 L238.39,211.86 L236.29,209.26 Z" fill="none" stroke="#1e2d9a" stroke-width="1.2"/>
<path d="M237.59,205.86 L239.09,207.66 L237.59,209.46 L236.09,207.66 Z" fill="none" stroke="#3a3ab0" stroke-width="0.9"/>
<path d="M239.52,205.97 L241.62,208.57 L239.52,211.17 L237.42,208.57 Z" fill="none" stroke="#1e2d9a" stroke-width="1.2"/>
<path d="M240.65,205.28 L242.75,207.88 L240.65,210.48 L238.55,207.88 Z" fill="none" stroke="#1e2d9a" stroke-width="1.2"/>
<path d="M239.85,204.48 L241.35,206.28 L239.85,208.08 L238.35,206.28 Z" fill="none" stroke="#3a3ab0" stroke-width="0.9"/>
<path d="M241.78,204.59 L243.88,207.19 L241.78,209.79 L239.68,207.19 Z" fill="none" stroke="#1e2d9a" stroke-width="1.2"/>
<path d="M242.91,203.90 L245.01,206.50 L242.91,209.10 L240.81,206.50 Z" fill="none" stroke="#1e2d9a" stroke-width="1.2"/>
<path d="M242.11,203.10 L243.61,204.90 L242.11,206.70 L240.61,204.90 Z" fill="none" stroke="#3a3ab0" stroke-width="0.9"/>
<path d="M244.04,203.21 L246.14,205.81 L244.04,208.41 L241.94,205.81 Z" fill="none" stroke="#1e2d9a" stroke-width="1.2"/>
<path d="M245.17,202.52 L247.27,205.12 L245.17,207.72 L243.07,205.12 Z" fill="none" stroke="#1e2d9a" stroke-width="1.2"/>
<path d="M244.37,201.72 L245.87,203.52 L244.37,205.32 L242.87,203.52 Z" fill="none" stroke="#3a3ab0" stroke-width="0.9"/>
<path d="M246.30,201.83 L248.40,204.43 L246.30,207.03 L244.20,204.43 Z" fill="none" stroke="#1e2d9a" stroke-width="1.2"/>
<path d="M247.43,201.14 L249.53,203.74 L247.43,206.34 L245.33,203.74 Z" fill="none" stroke="#1e2d9a" stroke-width="1.2"/>
<path d="M246.63,200.34 L248.13,202.14 L246.63,203.94 L245.13,202.14 Z" fill="none" stroke="#3a3ab0" stroke-width="0.9"/>
<path d="M248.57,200.46 L250.67,203.06 L248.57,205.66 L246.47,203.06 Z" fill="none" stroke="#1e2d9a" stroke-width="1.2"/>
<path d="M249.70,199.77 L251.80,202.37 L249.70,204.97 L247.60,202.37 Z" fill="none" stroke="#1e2d9a" stroke-width="1.2"/>
<path d="M248.90,198.97 L250.40,200.77 L248.90,202.57 L247.40,200.77 Z" fill="none" stroke="#3a3ab0" stroke-width="0.9"/>
<path d="M250.83,199.08 L252.93,201.68 L250.83,204.28 L248.73,201.68 Z" fill="none" stroke="#1e2d9a" stroke-width="1.2"/>
<path d="M251.96,198.39 L254.06,200.99 L251.96,203.59 L249.86,200.99 Z" fill="none" stroke="#1e2d9a" stroke-width="1.2"/>
<path d="M251.16,197.59 L252.66,199.39 L251.16,201.19 L249.66,199.39 Z" fill="none" stroke="#3a3ab0" stroke-width="0.9"/>
<path d="M253.09,197.70 L255.19,200.30 L253.09,202.90 L250.99,200.30 Z" fill="none" stroke="#1e2d9a" stroke-width="1.2"/>
<path d="M254.22,197.01 L256.32,199.61 L254.22,202.21 L252.12,199.61 Z" fill="none" stroke="#1e2d9a" stroke-width="1.2"/>
<path d="M253.42,196.21 L254.92,198.01 L253.42,199.81 L251.92,198.01 Z" fill="none" stroke="#3a3ab0" stroke-width="0.9"/>
<path d="M255.35,196.32 L257.45,198.92 L255.35,201.52 L253.25,198.92 Z" fill="none" stroke="#1e2d9a" stroke-width="1.2"/>
<path d="M256.48,195.63 L258.58,198.23 L256.48,200.83 L254.38,198.23 Z" fill="none" stroke="#1e2d9a" stroke-width="1.2"/>
<path d="M255.68,194.83 L257.18,196.63 L255.68,198.43 L254.18,196.63 Z" fill="none" stroke="#3a3ab0" stroke-width="0.9"/>
<path d="M257.61,194.94 L259.71,197.54 L257.61,200.14 L255.51,197.54 Z" fill="none" stroke="#1e2d9a" stroke-width="1.2"/>
<path d="M258.74,194.25 L260.84,196.85 L258.74,199.45 L256.64,196.85 Z" fill="none" stroke="#1e2d9a" stroke-width="1.2"/>
<path d="M257.94,193.45 L259.44,195.25 L257.94,197.05 L256.44,195.25 Z" fill="none" stroke="#3a3ab0" stroke-width="0.9"/>
<path d="M259.88,193.56 L261.98,196.16 L259.88,198.76 L257.78,196.16 Z" fill="none" stroke="#1e2d9a" stroke-width="1.2"/>
<path d="M261.01,192.87 L263.11,195.47 L261.01,198.07 L258.91,195.47 Z" fill="none" stroke="#1e2d9a" stroke-width="1.2"/>
<path d="M260.21,192.07 L261.71,193.87 L260.21,195.67 L258.71,193.87 Z" fill="none" stroke="#3a3ab0" stroke-width="0.9"/>
<path d="M262.14,192.18 L264.24,194.78 L262.14,197.38 L260.04,194.78 Z" fill="none" stroke="#1e2d9a" stroke-width="1.2"/>
<path d="M263.27,191.49 L265.37,194.09 L263.27,196.69 L261.17,194.09 Z" fill="none" stroke="#1e2d9a" stroke-width="1.2"/>
<path d="M262.47,190.69 L263.97,192.49 L262.47,194.29 L260.97,192.49 Z" fill="none" stroke="#3a3ab0" stroke-width="0.9"/>
<path d="M264.40,190.80 L266.50,193.40 L264.40,196.00 L262.30,193.40 Z" fill="none" stroke="#1e2d9a" stroke-width="1.2"/>
<circle cx="238.00" cy="207.50" r="1.7" fill="none" stroke="#a02ca4" stroke-width="1.1"/>
<circle cx="244.00" cy="203.00" r="1.7" fill="none" stroke="#a02ca4" stroke-width="1.1"/>
<circle cx="250.00" cy="199.50" r="1.7" fill="none" stroke="#a02ca4" stroke-width="1.1"/>
<circle cx="255.00" cy="196.50" r="1.7" fill="none" stroke="#a02ca4" stroke-width="1.1"/>
<circle cx="260.00" cy="193.50" r="1.7" fill="none" stroke="#a02ca4" stroke-width="1.1"/>
<circle cx="264.00" cy="191.90" r="1.7" fill="none" stroke="#a02ca4" stroke-width="1.1"/>
<circle cx="267.40" cy="191.30" r="1.7" fill="none" stroke="#a02ca4" stroke-width="1.1"/>
<circle cx="271.40" cy="186.70" r="1.7" fill="none" stroke="#a02ca4" stroke-width="1.1"/>
<circle cx="276.00" cy="187.30" r="1.7" fill="none" stroke="#a02ca4" stroke-width="1.1"/>
<circle cx="280.60" cy="186.10" r="1.7" fill="none" stroke="#a02ca4" stroke-width="1.1"/>
<line x1="236.00" y1="206.50" x2="236.00" y2="211.50" stroke="#ee2a2a" stroke-width="0.8"/>
<line x1="244.00" y1="200.50" x2="244.00" y2="205.50" stroke="#ee2a2a" stroke-width="0.8"/>
<line x1="250.00" y1="196.50" x2="250.00" y2="201.50" stroke="#ee2a2a" stroke-width="0.8"/>
<line x1="256.00" y1="191.50" x2="256.00" y2="196.50" stroke="#ee2a2a" stroke-width="0.8"/>
<line x1="262.00" y1="187.50" x2="262.00" y2="192.50" stroke="#ee2a2a" stroke-width="0.8"/>
<line x1="270.00" y1="184.50" x2="270.00" y2="189.50" stroke="#ee2a2a" stroke-width="0.8"/>
<line x1="276.00" y1="180.50" x2="276.00" y2="185.50" stroke="#ee2a2a" stroke-width="0.8"/>
<line x1="282.00" y1="177.50" x2="282.00" y2="182.50" stroke="#ee2a2a" stroke-width="0.8"/>
<line x1="239.50" y1="210.50" x2="239.50" y2="215.50" stroke="#ee2a2a" stroke-width="0.8"/>
<line x1="257.00" y1="198.50" x2="257.00" y2="203.50" stroke="#ee2a2a" stroke-width="0.8"/>
<line x1="293.10" y1="171.90" x2="293.10" y2="183.90" stroke="#ee2a2a" stroke-width="0.9"/>
<path d="M290.40,175.05 L295.80,175.05 L293.10,179.75 Z" fill="none" stroke="#ee2a2a" stroke-width="1.2" stroke-linejoin="miter"/>
</svg></body></html>
